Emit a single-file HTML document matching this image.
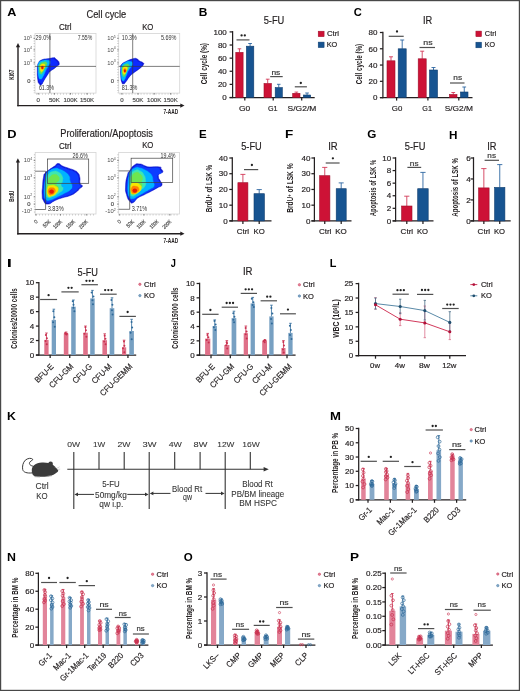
<!DOCTYPE html>
<html><head><meta charset="utf-8"><style>
html,body{margin:0;padding:0;background:#fff;}
svg{display:block;font-family:"Liberation Sans",sans-serif;filter:blur(0.3px);}

</style></head><body>
<svg width="520" height="691" viewBox="0 0 520 691">
<rect x="0" y="0" width="520" height="691" fill="#fff"/>
<text x="198.82" y="16.26" font-size="11.5" font-weight="bold" fill="#000" textLength="8.64" lengthAdjust="spacingAndGlyphs">B</text>
<text x="263.63" y="23.94" font-size="10" fill="#231f20" textLength="20.69" lengthAdjust="spacingAndGlyphs" stroke="#231f20" stroke-width="0.18">5-FU</text>
<line x1="232.60" y1="31.10" x2="232.60" y2="98.12" stroke="#231f20" stroke-width="1.25"/>
<line x1="229.60" y1="97.50" x2="232.60" y2="97.50" stroke="#231f20" stroke-width="1.25"/>
<text class="hv" x="226.80" y="100.25" font-size="8.0" fill="#231f20" text-anchor="end" stroke="#231f20" stroke-width="0.18">0</text>
<line x1="229.60" y1="84.38" x2="232.60" y2="84.38" stroke="#231f20" stroke-width="1.25"/>
<text class="hv" x="226.80" y="87.13" font-size="8.0" fill="#231f20" text-anchor="end" stroke="#231f20" stroke-width="0.18">20</text>
<line x1="229.60" y1="71.26" x2="232.60" y2="71.26" stroke="#231f20" stroke-width="1.25"/>
<text class="hv" x="226.80" y="74.01" font-size="8.0" fill="#231f20" text-anchor="end" stroke="#231f20" stroke-width="0.18">40</text>
<line x1="229.60" y1="58.14" x2="232.60" y2="58.14" stroke="#231f20" stroke-width="1.25"/>
<text class="hv" x="226.80" y="60.89" font-size="8.0" fill="#231f20" text-anchor="end" stroke="#231f20" stroke-width="0.18">60</text>
<line x1="229.60" y1="45.02" x2="232.60" y2="45.02" stroke="#231f20" stroke-width="1.25"/>
<text class="hv" x="226.80" y="47.77" font-size="8.0" fill="#231f20" text-anchor="end" stroke="#231f20" stroke-width="0.18">80</text>
<line x1="229.60" y1="31.90" x2="232.60" y2="31.90" stroke="#231f20" stroke-width="1.25"/>
<text class="hv" x="226.80" y="34.65" font-size="8.0" fill="#231f20" text-anchor="end" stroke="#231f20" stroke-width="0.18">100</text>
<line x1="229.60" y1="97.50" x2="314.70" y2="97.50" stroke="#231f20" stroke-width="1.25"/>
<line x1="244.80" y1="97.50" x2="244.80" y2="100.50" stroke="#231f20" stroke-width="1.25"/>
<line x1="273.20" y1="97.50" x2="273.20" y2="100.50" stroke="#231f20" stroke-width="1.25"/>
<line x1="301.70" y1="97.50" x2="301.70" y2="100.50" stroke="#231f20" stroke-width="1.25"/>
<line x1="239.45" y1="52.40" x2="239.45" y2="48.80" stroke="#d23a58" stroke-width="0.9"/>
<line x1="237.62" y1="48.80" x2="241.27" y2="48.80" stroke="#d23a58" stroke-width="0.9"/>
<rect x="235.80" y="52.40" width="7.30" height="45.10" fill="#cd1236" stroke="#9e0e2a" stroke-width="0.6"/>
<line x1="250.10" y1="46.20" x2="250.10" y2="43.50" stroke="#2e67a2" stroke-width="0.9"/>
<line x1="248.25" y1="43.50" x2="251.95" y2="43.50" stroke="#2e67a2" stroke-width="0.9"/>
<rect x="246.40" y="46.20" width="7.40" height="51.30" fill="#175491" stroke="#0e3d6e" stroke-width="0.6"/>
<line x1="267.70" y1="83.50" x2="267.70" y2="79.20" stroke="#d23a58" stroke-width="0.9"/>
<line x1="265.85" y1="79.20" x2="269.55" y2="79.20" stroke="#d23a58" stroke-width="0.9"/>
<rect x="264.00" y="83.50" width="7.40" height="14.00" fill="#cd1236" stroke="#9e0e2a" stroke-width="0.6"/>
<line x1="278.75" y1="87.60" x2="278.75" y2="84.30" stroke="#2e67a2" stroke-width="0.9"/>
<line x1="276.98" y1="84.30" x2="280.52" y2="84.30" stroke="#2e67a2" stroke-width="0.9"/>
<rect x="275.20" y="87.60" width="7.10" height="9.90" fill="#175491" stroke="#0e3d6e" stroke-width="0.6"/>
<line x1="296.35" y1="93.30" x2="296.35" y2="92.10" stroke="#d23a58" stroke-width="0.9"/>
<line x1="294.53" y1="92.10" x2="298.18" y2="92.10" stroke="#d23a58" stroke-width="0.9"/>
<rect x="292.70" y="93.30" width="7.30" height="4.20" fill="#cd1236" stroke="#9e0e2a" stroke-width="0.6"/>
<line x1="307.05" y1="95.00" x2="307.05" y2="93.00" stroke="#2e67a2" stroke-width="0.9"/>
<line x1="305.22" y1="93.00" x2="308.87" y2="93.00" stroke="#2e67a2" stroke-width="0.9"/>
<rect x="303.40" y="95.00" width="7.30" height="2.50" fill="#175491" stroke="#0e3d6e" stroke-width="0.6"/>
<line x1="236.50" y1="39.90" x2="249.50" y2="39.90" stroke="#505050" stroke-width="1.2"/>
<circle cx="241.60" cy="35.40" r="1.15" fill="#222"/>
<circle cx="244.80" cy="35.40" r="1.15" fill="#222"/>
<line x1="270.20" y1="76.60" x2="282.70" y2="76.60" stroke="#505050" stroke-width="1.2"/>
<text x="271.46" y="74.81" font-size="7.6" fill="#333" textLength="8.85" lengthAdjust="spacingAndGlyphs" stroke="#333" stroke-width="0.18">ns</text>
<line x1="294.80" y1="86.80" x2="306.90" y2="86.80" stroke="#505050" stroke-width="1.2"/>
<circle cx="300.80" cy="83.00" r="1.15" fill="#222"/>
<text x="238.98" y="110.95" font-size="8" fill="#231f20" textLength="11.21" lengthAdjust="spacingAndGlyphs" class="hv" stroke="#231f20" stroke-width="0.18">G0</text>
<text x="268.04" y="110.95" font-size="8" fill="#231f20" textLength="9.57" lengthAdjust="spacingAndGlyphs" class="hv" stroke="#231f20" stroke-width="0.18">G1</text>
<text x="287.62" y="110.85" font-size="8" fill="#231f20" textLength="28.70" lengthAdjust="spacingAndGlyphs" class="hv" stroke="#231f20" stroke-width="0.18">S/G2/M</text>
<rect x="318.20" y="31.20" width="5.90" height="5.50" fill="#cd1236" stroke="#9e0e2a" stroke-width="0.5"/>
<rect x="318.20" y="42.10" width="5.90" height="5.50" fill="#175491" stroke="#0e3d6e" stroke-width="0.5"/>
<text x="326.91" y="36.08" font-size="7.8" fill="#231f20" textLength="12.10" lengthAdjust="spacingAndGlyphs" class="hv" stroke="#231f20" stroke-width="0.18">Ctrl</text>
<text x="326.71" y="47.28" font-size="7.8" fill="#231f20" textLength="10.66" lengthAdjust="spacingAndGlyphs" class="hv" stroke="#231f20" stroke-width="0.18">KO</text>
<text transform="translate(206.62,84.36) rotate(-90)" font-size="8.5" font-weight="bold" fill="#231f20" textLength="41.36" lengthAdjust="spacingAndGlyphs">Cell cycle (%)</text>
<text x="353.75" y="16.46" font-size="11.5" font-weight="bold" fill="#000" textLength="8.05" lengthAdjust="spacingAndGlyphs">C</text>
<text x="422.97" y="23.74" font-size="10" fill="#231f20" textLength="9.25" lengthAdjust="spacingAndGlyphs" stroke="#231f20" stroke-width="0.18">IR</text>
<line x1="382.90" y1="31.70" x2="382.90" y2="98.22" stroke="#231f20" stroke-width="1.25"/>
<line x1="379.90" y1="97.60" x2="382.90" y2="97.60" stroke="#231f20" stroke-width="1.25"/>
<text class="hv" x="377.40" y="100.35" font-size="8.0" fill="#231f20" text-anchor="end" stroke="#231f20" stroke-width="0.18">0</text>
<line x1="379.90" y1="81.32" x2="382.90" y2="81.32" stroke="#231f20" stroke-width="1.25"/>
<text class="hv" x="377.40" y="84.08" font-size="8.0" fill="#231f20" text-anchor="end" stroke="#231f20" stroke-width="0.18">20</text>
<line x1="379.90" y1="65.05" x2="382.90" y2="65.05" stroke="#231f20" stroke-width="1.25"/>
<text class="hv" x="377.40" y="67.80" font-size="8.0" fill="#231f20" text-anchor="end" stroke="#231f20" stroke-width="0.18">40</text>
<line x1="379.90" y1="48.77" x2="382.90" y2="48.77" stroke="#231f20" stroke-width="1.25"/>
<text class="hv" x="377.40" y="51.53" font-size="8.0" fill="#231f20" text-anchor="end" stroke="#231f20" stroke-width="0.18">60</text>
<line x1="379.90" y1="32.50" x2="382.90" y2="32.50" stroke="#231f20" stroke-width="1.25"/>
<text class="hv" x="377.40" y="35.25" font-size="8.0" fill="#231f20" text-anchor="end" stroke="#231f20" stroke-width="0.18">80</text>
<line x1="379.90" y1="97.60" x2="472.50" y2="97.60" stroke="#231f20" stroke-width="1.25"/>
<line x1="396.60" y1="97.60" x2="396.60" y2="100.60" stroke="#231f20" stroke-width="1.25"/>
<line x1="427.90" y1="97.60" x2="427.90" y2="100.60" stroke="#231f20" stroke-width="1.25"/>
<line x1="458.80" y1="97.60" x2="458.80" y2="100.60" stroke="#231f20" stroke-width="1.25"/>
<line x1="391.00" y1="60.80" x2="391.00" y2="56.80" stroke="#d23a58" stroke-width="0.9"/>
<line x1="389.00" y1="56.80" x2="393.00" y2="56.80" stroke="#d23a58" stroke-width="0.9"/>
<rect x="387.00" y="60.80" width="8.00" height="36.80" fill="#cd1236" stroke="#9e0e2a" stroke-width="0.6"/>
<line x1="402.20" y1="48.80" x2="402.20" y2="40.00" stroke="#2e67a2" stroke-width="0.9"/>
<line x1="400.20" y1="40.00" x2="404.20" y2="40.00" stroke="#2e67a2" stroke-width="0.9"/>
<rect x="398.20" y="48.80" width="8.00" height="48.80" fill="#175491" stroke="#0e3d6e" stroke-width="0.6"/>
<line x1="422.20" y1="58.80" x2="422.20" y2="51.20" stroke="#d23a58" stroke-width="0.9"/>
<line x1="420.20" y1="51.20" x2="424.20" y2="51.20" stroke="#d23a58" stroke-width="0.9"/>
<rect x="418.20" y="58.80" width="8.00" height="38.80" fill="#cd1236" stroke="#9e0e2a" stroke-width="0.6"/>
<line x1="433.50" y1="70.00" x2="433.50" y2="67.50" stroke="#2e67a2" stroke-width="0.9"/>
<line x1="431.50" y1="67.50" x2="435.50" y2="67.50" stroke="#2e67a2" stroke-width="0.9"/>
<rect x="429.50" y="70.00" width="8.00" height="27.60" fill="#175491" stroke="#0e3d6e" stroke-width="0.6"/>
<line x1="453.25" y1="94.50" x2="453.25" y2="92.50" stroke="#d23a58" stroke-width="0.9"/>
<line x1="451.38" y1="92.50" x2="455.12" y2="92.50" stroke="#d23a58" stroke-width="0.9"/>
<rect x="449.50" y="94.50" width="7.50" height="3.10" fill="#cd1236" stroke="#9e0e2a" stroke-width="0.6"/>
<line x1="464.25" y1="92.00" x2="464.25" y2="87.00" stroke="#2e67a2" stroke-width="0.9"/>
<line x1="462.38" y1="87.00" x2="466.12" y2="87.00" stroke="#2e67a2" stroke-width="0.9"/>
<rect x="460.50" y="92.00" width="7.50" height="5.60" fill="#175491" stroke="#0e3d6e" stroke-width="0.6"/>
<line x1="388.70" y1="36.30" x2="403.70" y2="36.30" stroke="#505050" stroke-width="1.2"/>
<circle cx="397.00" cy="31.50" r="1.15" fill="#222"/>
<line x1="419.50" y1="47.50" x2="435.00" y2="47.50" stroke="#505050" stroke-width="1.2"/>
<text x="423.33" y="45.31" font-size="7.6" fill="#333" textLength="9.29" lengthAdjust="spacingAndGlyphs" stroke="#333" stroke-width="0.18">ns</text>
<line x1="450.00" y1="83.00" x2="464.50" y2="83.00" stroke="#505050" stroke-width="1.2"/>
<text x="453.36" y="80.31" font-size="7.6" fill="#333" textLength="8.74" lengthAdjust="spacingAndGlyphs" stroke="#333" stroke-width="0.18">ns</text>
<text x="391.81" y="111.15" font-size="8" fill="#231f20" textLength="10.46" lengthAdjust="spacingAndGlyphs" class="hv" stroke="#231f20" stroke-width="0.18">G0</text>
<text x="422.34" y="111.15" font-size="8" fill="#231f20" textLength="9.57" lengthAdjust="spacingAndGlyphs" class="hv" stroke="#231f20" stroke-width="0.18">G1</text>
<text x="444.73" y="111.15" font-size="8" fill="#231f20" textLength="28.18" lengthAdjust="spacingAndGlyphs" class="hv" stroke="#231f20" stroke-width="0.18">S/G2/M</text>
<rect x="475.90" y="31.10" width="5.60" height="5.60" fill="#cd1236" stroke="#9e0e2a" stroke-width="0.5"/>
<rect x="475.90" y="42.20" width="5.60" height="5.60" fill="#175491" stroke="#0e3d6e" stroke-width="0.5"/>
<text x="484.83" y="36.03" font-size="7.8" fill="#231f20" textLength="11.45" lengthAdjust="spacingAndGlyphs" class="hv" stroke="#231f20" stroke-width="0.18">Ctrl</text>
<text x="484.63" y="47.18" font-size="7.8" fill="#231f20" textLength="10.33" lengthAdjust="spacingAndGlyphs" class="hv" stroke="#231f20" stroke-width="0.18">KO</text>
<text transform="translate(361.52,84.25) rotate(-90)" font-size="8.5" font-weight="bold" fill="#231f20" textLength="40.45" lengthAdjust="spacingAndGlyphs">Cell cycle (%)</text>
<text x="199.05" y="138.46" font-size="11.5" font-weight="bold" fill="#000" textLength="7.67" lengthAdjust="spacingAndGlyphs">E</text>
<text x="241.23" y="149.94" font-size="10" fill="#231f20" textLength="20.48" lengthAdjust="spacingAndGlyphs" stroke="#231f20" stroke-width="0.18">5-FU</text>
<line x1="232.30" y1="157.20" x2="232.30" y2="221.53" stroke="#231f20" stroke-width="1.25"/>
<line x1="229.30" y1="220.90" x2="232.30" y2="220.90" stroke="#231f20" stroke-width="1.25"/>
<text class="hv" x="227.70" y="223.65" font-size="8.0" fill="#231f20" text-anchor="end" stroke="#231f20" stroke-width="0.18">0</text>
<line x1="229.30" y1="205.18" x2="232.30" y2="205.18" stroke="#231f20" stroke-width="1.25"/>
<text class="hv" x="227.70" y="207.93" font-size="8.0" fill="#231f20" text-anchor="end" stroke="#231f20" stroke-width="0.18">10</text>
<line x1="229.30" y1="189.45" x2="232.30" y2="189.45" stroke="#231f20" stroke-width="1.25"/>
<text class="hv" x="227.70" y="192.20" font-size="8.0" fill="#231f20" text-anchor="end" stroke="#231f20" stroke-width="0.18">20</text>
<line x1="229.30" y1="173.72" x2="232.30" y2="173.72" stroke="#231f20" stroke-width="1.25"/>
<text class="hv" x="227.70" y="176.48" font-size="8.0" fill="#231f20" text-anchor="end" stroke="#231f20" stroke-width="0.18">30</text>
<line x1="229.30" y1="158.00" x2="232.30" y2="158.00" stroke="#231f20" stroke-width="1.25"/>
<text class="hv" x="227.70" y="160.75" font-size="8.0" fill="#231f20" text-anchor="end" stroke="#231f20" stroke-width="0.18">40</text>
<line x1="229.30" y1="220.90" x2="271.50" y2="220.90" stroke="#231f20" stroke-width="1.25"/>
<line x1="242.90" y1="220.90" x2="242.90" y2="223.90" stroke="#231f20" stroke-width="1.25"/>
<line x1="259.20" y1="220.90" x2="259.20" y2="223.90" stroke="#231f20" stroke-width="1.25"/>
<line x1="242.90" y1="182.70" x2="242.90" y2="174.40" stroke="#d23a58" stroke-width="0.9"/>
<line x1="240.40" y1="174.40" x2="245.40" y2="174.40" stroke="#d23a58" stroke-width="0.9"/>
<rect x="237.90" y="182.70" width="10.00" height="38.20" fill="#cd1236" stroke="#9e0e2a" stroke-width="0.6"/>
<line x1="259.20" y1="193.70" x2="259.20" y2="189.60" stroke="#2e67a2" stroke-width="0.9"/>
<line x1="256.60" y1="189.60" x2="261.80" y2="189.60" stroke="#2e67a2" stroke-width="0.9"/>
<rect x="254.00" y="193.70" width="10.40" height="27.20" fill="#175491" stroke="#0e3d6e" stroke-width="0.6"/>
<line x1="244.00" y1="169.60" x2="258.20" y2="169.60" stroke="#505050" stroke-width="1.2"/>
<circle cx="251.90" cy="165.00" r="1.15" fill="#222"/>
<text x="236.80" y="233.75" font-size="8" fill="#231f20" textLength="12.31" lengthAdjust="spacingAndGlyphs" class="hv" stroke="#231f20" stroke-width="0.18">Ctrl</text>
<text x="253.58" y="233.75" font-size="8" fill="#231f20" textLength="11.21" lengthAdjust="spacingAndGlyphs" class="hv" stroke="#231f20" stroke-width="0.18">KO</text>
<text transform="translate(211.92,212.20) rotate(-90)" font-size="8.5" font-weight="bold" fill="#231f20" textLength="47.35" lengthAdjust="spacingAndGlyphs">BrdU<tspan font-size="5.5" dy="-2.2">+</tspan><tspan dy="2.2"> of LSK %</tspan></text>
<text x="284.92" y="138.46" font-size="11.5" font-weight="bold" fill="#000" textLength="8.26" lengthAdjust="spacingAndGlyphs">F</text>
<text x="328.15" y="149.84" font-size="10" fill="#231f20" textLength="9.48" lengthAdjust="spacingAndGlyphs" stroke="#231f20" stroke-width="0.18">IR</text>
<line x1="314.40" y1="157.20" x2="314.40" y2="221.53" stroke="#231f20" stroke-width="1.25"/>
<line x1="311.40" y1="220.90" x2="314.40" y2="220.90" stroke="#231f20" stroke-width="1.25"/>
<text class="hv" x="310.40" y="223.65" font-size="8.0" fill="#231f20" text-anchor="end" stroke="#231f20" stroke-width="0.18">0</text>
<line x1="311.40" y1="205.18" x2="314.40" y2="205.18" stroke="#231f20" stroke-width="1.25"/>
<text class="hv" x="310.40" y="207.93" font-size="8.0" fill="#231f20" text-anchor="end" stroke="#231f20" stroke-width="0.18">10</text>
<line x1="311.40" y1="189.45" x2="314.40" y2="189.45" stroke="#231f20" stroke-width="1.25"/>
<text class="hv" x="310.40" y="192.20" font-size="8.0" fill="#231f20" text-anchor="end" stroke="#231f20" stroke-width="0.18">20</text>
<line x1="311.40" y1="173.72" x2="314.40" y2="173.72" stroke="#231f20" stroke-width="1.25"/>
<text class="hv" x="310.40" y="176.48" font-size="8.0" fill="#231f20" text-anchor="end" stroke="#231f20" stroke-width="0.18">30</text>
<line x1="311.40" y1="158.00" x2="314.40" y2="158.00" stroke="#231f20" stroke-width="1.25"/>
<text class="hv" x="310.40" y="160.75" font-size="8.0" fill="#231f20" text-anchor="end" stroke="#231f20" stroke-width="0.18">40</text>
<line x1="311.40" y1="220.90" x2="351.50" y2="220.90" stroke="#231f20" stroke-width="1.25"/>
<line x1="324.75" y1="220.90" x2="324.75" y2="223.90" stroke="#231f20" stroke-width="1.25"/>
<line x1="341.20" y1="220.90" x2="341.20" y2="223.90" stroke="#231f20" stroke-width="1.25"/>
<line x1="324.75" y1="175.70" x2="324.75" y2="167.40" stroke="#d23a58" stroke-width="0.9"/>
<line x1="322.18" y1="167.40" x2="327.32" y2="167.40" stroke="#d23a58" stroke-width="0.9"/>
<rect x="319.60" y="175.70" width="10.30" height="45.20" fill="#cd1236" stroke="#9e0e2a" stroke-width="0.6"/>
<line x1="341.20" y1="188.70" x2="341.20" y2="182.90" stroke="#2e67a2" stroke-width="0.9"/>
<line x1="338.70" y1="182.90" x2="343.70" y2="182.90" stroke="#2e67a2" stroke-width="0.9"/>
<rect x="336.20" y="188.70" width="10.00" height="32.20" fill="#175491" stroke="#0e3d6e" stroke-width="0.6"/>
<line x1="325.70" y1="163.00" x2="339.60" y2="163.00" stroke="#505050" stroke-width="1.2"/>
<circle cx="332.90" cy="158.30" r="1.15" fill="#222"/>
<text x="318.90" y="233.85" font-size="8" fill="#231f20" textLength="12.53" lengthAdjust="spacingAndGlyphs" class="hv" stroke="#231f20" stroke-width="0.18">Ctrl</text>
<text x="335.16" y="233.85" font-size="8" fill="#231f20" textLength="11.54" lengthAdjust="spacingAndGlyphs" class="hv" stroke="#231f20" stroke-width="0.18">KO</text>
<text transform="translate(293.22,212.82) rotate(-90)" font-size="8.5" font-weight="bold" fill="#231f20" textLength="49.38" lengthAdjust="spacingAndGlyphs">BrdU<tspan font-size="5.5" dy="-2.2">+</tspan><tspan dy="2.2"> of LSK %</tspan></text>
<text x="367.33" y="138.46" font-size="11.5" font-weight="bold" fill="#000" textLength="9.10" lengthAdjust="spacingAndGlyphs">G</text>
<text x="404.83" y="149.94" font-size="10" fill="#231f20" textLength="20.59" lengthAdjust="spacingAndGlyphs" stroke="#231f20" stroke-width="0.18">5-FU</text>
<line x1="395.60" y1="157.20" x2="395.60" y2="221.53" stroke="#231f20" stroke-width="1.25"/>
<line x1="392.60" y1="220.90" x2="395.60" y2="220.90" stroke="#231f20" stroke-width="1.25"/>
<text class="hv" x="391.20" y="223.65" font-size="8.0" fill="#231f20" text-anchor="end" stroke="#231f20" stroke-width="0.18">0</text>
<line x1="392.60" y1="208.32" x2="395.60" y2="208.32" stroke="#231f20" stroke-width="1.25"/>
<text class="hv" x="391.20" y="211.07" font-size="8.0" fill="#231f20" text-anchor="end" stroke="#231f20" stroke-width="0.18">2</text>
<line x1="392.60" y1="195.74" x2="395.60" y2="195.74" stroke="#231f20" stroke-width="1.25"/>
<text class="hv" x="391.20" y="198.49" font-size="8.0" fill="#231f20" text-anchor="end" stroke="#231f20" stroke-width="0.18">4</text>
<line x1="392.60" y1="183.16" x2="395.60" y2="183.16" stroke="#231f20" stroke-width="1.25"/>
<text class="hv" x="391.20" y="185.91" font-size="8.0" fill="#231f20" text-anchor="end" stroke="#231f20" stroke-width="0.18">6</text>
<line x1="392.60" y1="170.58" x2="395.60" y2="170.58" stroke="#231f20" stroke-width="1.25"/>
<text class="hv" x="391.20" y="173.33" font-size="8.0" fill="#231f20" text-anchor="end" stroke="#231f20" stroke-width="0.18">8</text>
<line x1="392.60" y1="158.00" x2="395.60" y2="158.00" stroke="#231f20" stroke-width="1.25"/>
<text class="hv" x="391.20" y="160.75" font-size="8.0" fill="#231f20" text-anchor="end" stroke="#231f20" stroke-width="0.18">10</text>
<line x1="392.60" y1="220.90" x2="433.50" y2="220.90" stroke="#231f20" stroke-width="1.25"/>
<line x1="406.80" y1="220.90" x2="406.80" y2="223.90" stroke="#231f20" stroke-width="1.25"/>
<line x1="422.95" y1="220.90" x2="422.95" y2="223.90" stroke="#231f20" stroke-width="1.25"/>
<line x1="406.80" y1="206.00" x2="406.80" y2="196.20" stroke="#d23a58" stroke-width="0.9"/>
<line x1="404.20" y1="196.20" x2="409.40" y2="196.20" stroke="#d23a58" stroke-width="0.9"/>
<rect x="401.60" y="206.00" width="10.40" height="14.90" fill="#cd1236" stroke="#9e0e2a" stroke-width="0.6"/>
<line x1="422.95" y1="188.70" x2="422.95" y2="172.40" stroke="#2e67a2" stroke-width="0.9"/>
<line x1="420.32" y1="172.40" x2="425.57" y2="172.40" stroke="#2e67a2" stroke-width="0.9"/>
<rect x="417.70" y="188.70" width="10.50" height="32.20" fill="#175491" stroke="#0e3d6e" stroke-width="0.6"/>
<line x1="407.40" y1="167.40" x2="421.20" y2="167.40" stroke="#505050" stroke-width="1.2"/>
<text x="409.87" y="165.61" font-size="7.6" fill="#333" textLength="8.63" lengthAdjust="spacingAndGlyphs" stroke="#333" stroke-width="0.18">ns</text>
<text x="400.60" y="233.75" font-size="8" fill="#231f20" textLength="12.53" lengthAdjust="spacingAndGlyphs" class="hv" stroke="#231f20" stroke-width="0.18">Ctrl</text>
<text x="416.89" y="233.75" font-size="8" fill="#231f20" textLength="11.10" lengthAdjust="spacingAndGlyphs" class="hv" stroke="#231f20" stroke-width="0.18">KO</text>
<text transform="translate(375.92,216.35) rotate(-90)" font-size="8.5" font-weight="bold" fill="#231f20" textLength="56.50" lengthAdjust="spacingAndGlyphs">Apoptosis of LSK %</text>
<text x="449.14" y="138.56" font-size="11.5" font-weight="bold" fill="#000" textLength="8.45" lengthAdjust="spacingAndGlyphs">H</text>
<text x="487.27" y="150.04" font-size="10" fill="#231f20" textLength="9.25" lengthAdjust="spacingAndGlyphs" stroke="#231f20" stroke-width="0.18">IR</text>
<line x1="473.50" y1="157.20" x2="473.50" y2="221.53" stroke="#231f20" stroke-width="1.25"/>
<line x1="470.50" y1="220.90" x2="473.50" y2="220.90" stroke="#231f20" stroke-width="1.25"/>
<text class="hv" x="470.80" y="223.65" font-size="8.0" fill="#231f20" text-anchor="end" stroke="#231f20" stroke-width="0.18">0</text>
<line x1="470.50" y1="199.93" x2="473.50" y2="199.93" stroke="#231f20" stroke-width="1.25"/>
<text class="hv" x="470.80" y="202.69" font-size="8.0" fill="#231f20" text-anchor="end" stroke="#231f20" stroke-width="0.18">2</text>
<line x1="470.50" y1="178.97" x2="473.50" y2="178.97" stroke="#231f20" stroke-width="1.25"/>
<text class="hv" x="470.80" y="181.72" font-size="8.0" fill="#231f20" text-anchor="end" stroke="#231f20" stroke-width="0.18">4</text>
<line x1="470.50" y1="158.00" x2="473.50" y2="158.00" stroke="#231f20" stroke-width="1.25"/>
<text class="hv" x="470.80" y="160.75" font-size="8.0" fill="#231f20" text-anchor="end" stroke="#231f20" stroke-width="0.18">6</text>
<line x1="470.50" y1="220.90" x2="510.70" y2="220.90" stroke="#231f20" stroke-width="1.25"/>
<line x1="483.85" y1="220.90" x2="483.85" y2="223.90" stroke="#231f20" stroke-width="1.25"/>
<line x1="499.75" y1="220.90" x2="499.75" y2="223.90" stroke="#231f20" stroke-width="1.25"/>
<line x1="483.85" y1="187.90" x2="483.85" y2="168.60" stroke="#d23a58" stroke-width="0.9"/>
<line x1="481.23" y1="168.60" x2="486.48" y2="168.60" stroke="#d23a58" stroke-width="0.9"/>
<rect x="478.60" y="187.90" width="10.50" height="33.00" fill="#cd1236" stroke="#9e0e2a" stroke-width="0.6"/>
<line x1="499.75" y1="187.40" x2="499.75" y2="164.60" stroke="#2e67a2" stroke-width="0.9"/>
<line x1="497.18" y1="164.60" x2="502.32" y2="164.60" stroke="#2e67a2" stroke-width="0.9"/>
<rect x="494.60" y="187.40" width="10.30" height="33.50" fill="#175491" stroke="#0e3d6e" stroke-width="0.6"/>
<line x1="484.60" y1="160.30" x2="499.00" y2="160.30" stroke="#505050" stroke-width="1.2"/>
<text x="487.37" y="158.31" font-size="7.6" fill="#333" textLength="8.63" lengthAdjust="spacingAndGlyphs" stroke="#333" stroke-width="0.18">ns</text>
<text x="477.60" y="233.75" font-size="8" fill="#231f20" textLength="12.53" lengthAdjust="spacingAndGlyphs" class="hv" stroke="#231f20" stroke-width="0.18">Ctrl</text>
<text x="493.89" y="233.75" font-size="8" fill="#231f20" textLength="11.10" lengthAdjust="spacingAndGlyphs" class="hv" stroke="#231f20" stroke-width="0.18">KO</text>
<text transform="translate(457.52,216.65) rotate(-90)" font-size="8.5" font-weight="bold" fill="#231f20" textLength="58.51" lengthAdjust="spacingAndGlyphs">Apoptosis of LSK %</text>
<text x="6.69" y="266.96" font-size="11.5" font-weight="bold" fill="#000" textLength="5.17" lengthAdjust="spacingAndGlyphs">I</text>
<text x="77.53" y="275.64" font-size="10" fill="#231f20" textLength="20.48" lengthAdjust="spacingAndGlyphs" stroke="#231f20" stroke-width="0.18">5-FU</text>
<line x1="38.90" y1="281.90" x2="38.90" y2="355.62" stroke="#231f20" stroke-width="1.25"/>
<line x1="35.90" y1="355.00" x2="38.90" y2="355.00" stroke="#231f20" stroke-width="1.25"/>
<text class="hv" x="34.30" y="357.75" font-size="8.0" fill="#231f20" text-anchor="end" stroke="#231f20" stroke-width="0.18">0</text>
<line x1="35.90" y1="340.54" x2="38.90" y2="340.54" stroke="#231f20" stroke-width="1.25"/>
<text class="hv" x="34.30" y="343.29" font-size="8.0" fill="#231f20" text-anchor="end" stroke="#231f20" stroke-width="0.18">2</text>
<line x1="35.90" y1="326.08" x2="38.90" y2="326.08" stroke="#231f20" stroke-width="1.25"/>
<text class="hv" x="34.30" y="328.83" font-size="8.0" fill="#231f20" text-anchor="end" stroke="#231f20" stroke-width="0.18">4</text>
<line x1="35.90" y1="311.62" x2="38.90" y2="311.62" stroke="#231f20" stroke-width="1.25"/>
<text class="hv" x="34.30" y="314.37" font-size="8.0" fill="#231f20" text-anchor="end" stroke="#231f20" stroke-width="0.18">6</text>
<line x1="35.90" y1="297.16" x2="38.90" y2="297.16" stroke="#231f20" stroke-width="1.25"/>
<text class="hv" x="34.30" y="299.91" font-size="8.0" fill="#231f20" text-anchor="end" stroke="#231f20" stroke-width="0.18">8</text>
<line x1="35.90" y1="282.70" x2="38.90" y2="282.70" stroke="#231f20" stroke-width="1.25"/>
<text class="hv" x="34.30" y="285.45" font-size="8.0" fill="#231f20" text-anchor="end" stroke="#231f20" stroke-width="0.18">10</text>
<line x1="35.90" y1="355.00" x2="136.20" y2="355.00" stroke="#231f20" stroke-width="1.25"/>
<line x1="50.15" y1="355.00" x2="50.15" y2="358.00" stroke="#231f20" stroke-width="1.25"/>
<line x1="69.75" y1="355.00" x2="69.75" y2="358.00" stroke="#231f20" stroke-width="1.25"/>
<line x1="88.95" y1="355.00" x2="88.95" y2="358.00" stroke="#231f20" stroke-width="1.25"/>
<line x1="108.35" y1="355.00" x2="108.35" y2="358.00" stroke="#231f20" stroke-width="1.25"/>
<line x1="127.95" y1="355.00" x2="127.95" y2="358.00" stroke="#231f20" stroke-width="1.25"/>
<rect x="44.30" y="339.90" width="4.30" height="15.10" fill="#df7189"/>
<line x1="46.45" y1="339.90" x2="46.45" y2="333.00" stroke="#c9304f" stroke-width="0.8"/>
<line x1="45.15" y1="333.00" x2="47.75" y2="333.00" stroke="#c9304f" stroke-width="0.8"/>
<circle cx="45.89" cy="335.05" r="1.0" fill="#c9304f"/>
<circle cx="46.90" cy="338.23" r="1.0" fill="#c9304f"/>
<circle cx="45.59" cy="341.10" r="1.0" fill="#c9304f"/>
<circle cx="46.78" cy="344.18" r="1.0" fill="#c9304f"/>
<rect x="51.70" y="319.90" width="4.30" height="35.10" fill="#77a0c2"/>
<line x1="53.85" y1="319.90" x2="53.85" y2="309.20" stroke="#2f6a9a" stroke-width="0.8"/>
<line x1="52.55" y1="309.20" x2="55.15" y2="309.20" stroke="#2f6a9a" stroke-width="0.8"/>
<circle cx="53.31" cy="311.30" r="1.0" fill="#2f6a9a"/>
<circle cx="54.34" cy="317.24" r="1.0" fill="#2f6a9a"/>
<circle cx="53.13" cy="322.22" r="1.0" fill="#2f6a9a"/>
<circle cx="54.72" cy="326.69" r="1.0" fill="#2f6a9a"/>
<rect x="63.80" y="333.50" width="4.60" height="21.50" fill="#df7189"/>
<line x1="66.10" y1="333.50" x2="66.10" y2="332.00" stroke="#c9304f" stroke-width="0.8"/>
<line x1="64.80" y1="332.00" x2="67.40" y2="332.00" stroke="#c9304f" stroke-width="0.8"/>
<circle cx="65.18" cy="332.98" r="1.0" fill="#c9304f"/>
<circle cx="66.91" cy="333.85" r="1.0" fill="#c9304f"/>
<circle cx="65.36" cy="333.66" r="1.0" fill="#c9304f"/>
<circle cx="66.44" cy="334.56" r="1.0" fill="#c9304f"/>
<rect x="71.20" y="306.70" width="4.50" height="48.30" fill="#77a0c2"/>
<line x1="73.45" y1="306.70" x2="73.45" y2="300.00" stroke="#2f6a9a" stroke-width="0.8"/>
<line x1="72.15" y1="300.00" x2="74.75" y2="300.00" stroke="#2f6a9a" stroke-width="0.8"/>
<circle cx="72.76" cy="301.28" r="1.0" fill="#2f6a9a"/>
<circle cx="73.52" cy="304.83" r="1.0" fill="#2f6a9a"/>
<circle cx="73.44" cy="307.80" r="1.0" fill="#2f6a9a"/>
<circle cx="74.37" cy="311.26" r="1.0" fill="#2f6a9a"/>
<rect x="83.20" y="332.70" width="4.60" height="22.30" fill="#df7189"/>
<line x1="85.50" y1="332.70" x2="85.50" y2="326.00" stroke="#c9304f" stroke-width="0.8"/>
<line x1="84.20" y1="326.00" x2="86.80" y2="326.00" stroke="#c9304f" stroke-width="0.8"/>
<circle cx="85.43" cy="327.27" r="1.0" fill="#c9304f"/>
<circle cx="85.94" cy="330.30" r="1.0" fill="#c9304f"/>
<circle cx="84.49" cy="333.83" r="1.0" fill="#c9304f"/>
<circle cx="86.38" cy="336.72" r="1.0" fill="#c9304f"/>
<rect x="90.20" y="298.40" width="4.50" height="56.60" fill="#77a0c2"/>
<line x1="92.45" y1="298.40" x2="92.45" y2="290.40" stroke="#2f6a9a" stroke-width="0.8"/>
<line x1="91.15" y1="290.40" x2="93.75" y2="290.40" stroke="#2f6a9a" stroke-width="0.8"/>
<circle cx="91.64" cy="292.45" r="1.0" fill="#2f6a9a"/>
<circle cx="93.46" cy="296.39" r="1.0" fill="#2f6a9a"/>
<circle cx="92.42" cy="300.25" r="1.0" fill="#2f6a9a"/>
<circle cx="92.96" cy="304.23" r="1.0" fill="#2f6a9a"/>
<rect x="102.40" y="340.20" width="4.60" height="14.80" fill="#df7189"/>
<line x1="104.70" y1="340.20" x2="104.70" y2="333.80" stroke="#c9304f" stroke-width="0.8"/>
<line x1="103.40" y1="333.80" x2="106.00" y2="333.80" stroke="#c9304f" stroke-width="0.8"/>
<circle cx="104.70" cy="335.67" r="1.0" fill="#c9304f"/>
<circle cx="105.43" cy="338.75" r="1.0" fill="#c9304f"/>
<circle cx="104.18" cy="341.38" r="1.0" fill="#c9304f"/>
<circle cx="105.54" cy="344.15" r="1.0" fill="#c9304f"/>
<rect x="109.70" y="308.20" width="4.60" height="46.80" fill="#77a0c2"/>
<line x1="112.00" y1="308.20" x2="112.00" y2="297.80" stroke="#2f6a9a" stroke-width="0.8"/>
<line x1="110.70" y1="297.80" x2="113.30" y2="297.80" stroke="#2f6a9a" stroke-width="0.8"/>
<circle cx="111.41" cy="300.06" r="1.0" fill="#2f6a9a"/>
<circle cx="112.40" cy="304.79" r="1.0" fill="#2f6a9a"/>
<circle cx="111.94" cy="310.33" r="1.0" fill="#2f6a9a"/>
<circle cx="112.56" cy="314.58" r="1.0" fill="#2f6a9a"/>
<rect x="122.00" y="347.30" width="4.20" height="7.70" fill="#df7189"/>
<line x1="124.10" y1="347.30" x2="124.10" y2="340.20" stroke="#c9304f" stroke-width="0.8"/>
<line x1="122.80" y1="340.20" x2="125.40" y2="340.20" stroke="#c9304f" stroke-width="0.8"/>
<circle cx="124.01" cy="341.56" r="1.0" fill="#c9304f"/>
<circle cx="124.37" cy="345.81" r="1.0" fill="#c9304f"/>
<circle cx="123.00" cy="348.18" r="1.0" fill="#c9304f"/>
<circle cx="124.33" cy="352.25" r="1.0" fill="#c9304f"/>
<rect x="129.30" y="331.00" width="4.60" height="24.00" fill="#77a0c2"/>
<line x1="131.60" y1="331.00" x2="131.60" y2="319.30" stroke="#2f6a9a" stroke-width="0.8"/>
<line x1="130.30" y1="319.30" x2="132.90" y2="319.30" stroke="#2f6a9a" stroke-width="0.8"/>
<circle cx="131.59" cy="322.03" r="1.0" fill="#2f6a9a"/>
<circle cx="132.15" cy="327.48" r="1.0" fill="#2f6a9a"/>
<circle cx="130.61" cy="332.76" r="1.0" fill="#2f6a9a"/>
<circle cx="131.69" cy="339.19" r="1.0" fill="#2f6a9a"/>
<line x1="40.10" y1="299.50" x2="57.10" y2="299.50" stroke="#505050" stroke-width="1.2"/>
<circle cx="48.60" cy="295.20" r="1.15" fill="#222"/>
<line x1="61.40" y1="291.90" x2="78.70" y2="291.90" stroke="#505050" stroke-width="1.2"/>
<circle cx="68.45" cy="287.80" r="1.15" fill="#222"/>
<circle cx="71.65" cy="287.80" r="1.15" fill="#222"/>
<line x1="81.40" y1="284.70" x2="97.90" y2="284.70" stroke="#505050" stroke-width="1.2"/>
<circle cx="86.45" cy="280.80" r="1.15" fill="#222"/>
<circle cx="89.65" cy="280.80" r="1.15" fill="#222"/>
<circle cx="92.85" cy="280.80" r="1.15" fill="#222"/>
<line x1="100.00" y1="294.20" x2="116.70" y2="294.20" stroke="#505050" stroke-width="1.2"/>
<circle cx="105.15" cy="290.10" r="1.15" fill="#222"/>
<circle cx="108.35" cy="290.10" r="1.15" fill="#222"/>
<circle cx="111.55" cy="290.10" r="1.15" fill="#222"/>
<line x1="119.40" y1="316.40" x2="135.90" y2="316.40" stroke="#505050" stroke-width="1.2"/>
<circle cx="127.65" cy="312.00" r="1.15" fill="#222"/>
<circle cx="139.90" cy="284.30" r="1.2" fill="#e2849a" stroke="#c9304f" stroke-width="0.45"/>
<circle cx="139.90" cy="295.60" r="1.2" fill="#86a9c8" stroke="#2f6a9a" stroke-width="0.45"/>
<text x="144.10" y="286.88" font-size="7.5" fill="#231f20" stroke="#231f20" stroke-width="0.18">Ctrl</text>
<text x="144.10" y="298.18" font-size="7.5" fill="#231f20" stroke="#231f20" stroke-width="0.18">KO</text>
<text class="hv" transform="translate(54.16,367.18) rotate(-45)" font-size="8.3" fill="#231f20" text-anchor="end" textLength="22.80" lengthAdjust="spacingAndGlyphs" stroke="#231f20" stroke-width="0.18">BFU-E</text>
<text class="hv" transform="translate(73.99,366.95) rotate(-45)" font-size="8.3" fill="#231f20" text-anchor="end" textLength="30.39" lengthAdjust="spacingAndGlyphs" stroke="#231f20" stroke-width="0.18">CFU-GM</text>
<text class="hv" transform="translate(92.72,367.02) rotate(-45)" font-size="8.3" fill="#231f20" text-anchor="end" textLength="24.06" lengthAdjust="spacingAndGlyphs" stroke="#231f20" stroke-width="0.18">CFU-G</text>
<text class="hv" transform="translate(112.28,366.96) rotate(-45)" font-size="8.3" fill="#231f20" text-anchor="end" textLength="24.48" lengthAdjust="spacingAndGlyphs" stroke="#231f20" stroke-width="0.18">CFU-M</text>
<text class="hv" transform="translate(132.89,366.95) rotate(-45)" font-size="8.3" fill="#231f20" text-anchor="end" textLength="41.79" lengthAdjust="spacingAndGlyphs" stroke="#231f20" stroke-width="0.18">CFU-GEMM</text>
<text transform="translate(17.42,348.65) rotate(-90)" font-size="8.5" font-weight="bold" fill="#231f20" textLength="60.21" lengthAdjust="spacingAndGlyphs">Colonies/20000 cells</text>
<text x="170.66" y="266.96" font-size="11.5" font-weight="bold" fill="#000" textLength="5.15" lengthAdjust="spacingAndGlyphs">J</text>
<text x="242.94" y="275.24" font-size="10" fill="#231f20" textLength="9.60" lengthAdjust="spacingAndGlyphs" stroke="#231f20" stroke-width="0.18">IR</text>
<line x1="199.60" y1="282.70" x2="199.60" y2="355.82" stroke="#231f20" stroke-width="1.25"/>
<line x1="196.60" y1="355.20" x2="199.60" y2="355.20" stroke="#231f20" stroke-width="1.25"/>
<text class="hv" x="194.80" y="357.95" font-size="8.0" fill="#231f20" text-anchor="end" stroke="#231f20" stroke-width="0.18">0</text>
<line x1="196.60" y1="340.86" x2="199.60" y2="340.86" stroke="#231f20" stroke-width="1.25"/>
<text class="hv" x="194.80" y="343.61" font-size="8.0" fill="#231f20" text-anchor="end" stroke="#231f20" stroke-width="0.18">2</text>
<line x1="196.60" y1="326.52" x2="199.60" y2="326.52" stroke="#231f20" stroke-width="1.25"/>
<text class="hv" x="194.80" y="329.27" font-size="8.0" fill="#231f20" text-anchor="end" stroke="#231f20" stroke-width="0.18">4</text>
<line x1="196.60" y1="312.18" x2="199.60" y2="312.18" stroke="#231f20" stroke-width="1.25"/>
<text class="hv" x="194.80" y="314.93" font-size="8.0" fill="#231f20" text-anchor="end" stroke="#231f20" stroke-width="0.18">6</text>
<line x1="196.60" y1="297.84" x2="199.60" y2="297.84" stroke="#231f20" stroke-width="1.25"/>
<text class="hv" x="194.80" y="300.59" font-size="8.0" fill="#231f20" text-anchor="end" stroke="#231f20" stroke-width="0.18">8</text>
<line x1="196.60" y1="283.50" x2="199.60" y2="283.50" stroke="#231f20" stroke-width="1.25"/>
<text class="hv" x="194.80" y="286.25" font-size="8.0" fill="#231f20" text-anchor="end" stroke="#231f20" stroke-width="0.18">10</text>
<line x1="196.60" y1="355.20" x2="295.60" y2="355.20" stroke="#231f20" stroke-width="1.25"/>
<line x1="211.00" y1="355.20" x2="211.00" y2="358.20" stroke="#231f20" stroke-width="1.25"/>
<line x1="230.30" y1="355.20" x2="230.30" y2="358.20" stroke="#231f20" stroke-width="1.25"/>
<line x1="249.30" y1="355.20" x2="249.30" y2="358.20" stroke="#231f20" stroke-width="1.25"/>
<line x1="267.90" y1="355.20" x2="267.90" y2="358.20" stroke="#231f20" stroke-width="1.25"/>
<line x1="287.00" y1="355.20" x2="287.00" y2="358.20" stroke="#231f20" stroke-width="1.25"/>
<rect x="205.10" y="338.60" width="5.20" height="16.60" fill="#df7189"/>
<line x1="207.70" y1="338.60" x2="207.70" y2="333.40" stroke="#c9304f" stroke-width="0.8"/>
<line x1="206.40" y1="333.40" x2="209.00" y2="333.40" stroke="#c9304f" stroke-width="0.8"/>
<circle cx="207.41" cy="335.12" r="1.0" fill="#c9304f"/>
<circle cx="208.40" cy="337.33" r="1.0" fill="#c9304f"/>
<circle cx="206.70" cy="339.89" r="1.0" fill="#c9304f"/>
<circle cx="208.66" cy="342.53" r="1.0" fill="#c9304f"/>
<rect x="212.60" y="326.00" width="4.30" height="29.20" fill="#77a0c2"/>
<line x1="214.75" y1="326.00" x2="214.75" y2="319.90" stroke="#2f6a9a" stroke-width="0.8"/>
<line x1="213.45" y1="319.90" x2="216.05" y2="319.90" stroke="#2f6a9a" stroke-width="0.8"/>
<circle cx="214.51" cy="320.95" r="1.0" fill="#2f6a9a"/>
<circle cx="215.62" cy="324.47" r="1.0" fill="#2f6a9a"/>
<circle cx="213.86" cy="327.31" r="1.0" fill="#2f6a9a"/>
<circle cx="215.31" cy="330.02" r="1.0" fill="#2f6a9a"/>
<rect x="224.30" y="345.00" width="5.10" height="10.20" fill="#df7189"/>
<line x1="226.85" y1="345.00" x2="226.85" y2="340.60" stroke="#c9304f" stroke-width="0.8"/>
<line x1="225.55" y1="340.60" x2="228.15" y2="340.60" stroke="#c9304f" stroke-width="0.8"/>
<circle cx="226.65" cy="342.19" r="1.0" fill="#c9304f"/>
<circle cx="226.98" cy="343.30" r="1.0" fill="#c9304f"/>
<circle cx="226.13" cy="345.25" r="1.0" fill="#c9304f"/>
<circle cx="227.23" cy="348.51" r="1.0" fill="#c9304f"/>
<rect x="231.60" y="318.10" width="4.70" height="37.10" fill="#77a0c2"/>
<line x1="233.95" y1="318.10" x2="233.95" y2="311.20" stroke="#2f6a9a" stroke-width="0.8"/>
<line x1="232.65" y1="311.20" x2="235.25" y2="311.20" stroke="#2f6a9a" stroke-width="0.8"/>
<circle cx="233.30" cy="313.35" r="1.0" fill="#2f6a9a"/>
<circle cx="234.42" cy="316.65" r="1.0" fill="#2f6a9a"/>
<circle cx="233.37" cy="319.86" r="1.0" fill="#2f6a9a"/>
<circle cx="234.09" cy="322.17" r="1.0" fill="#2f6a9a"/>
<rect x="243.70" y="333.20" width="4.30" height="22.00" fill="#df7189"/>
<line x1="245.85" y1="333.20" x2="245.85" y2="326.00" stroke="#c9304f" stroke-width="0.8"/>
<line x1="244.55" y1="326.00" x2="247.15" y2="326.00" stroke="#c9304f" stroke-width="0.8"/>
<circle cx="245.64" cy="327.96" r="1.0" fill="#c9304f"/>
<circle cx="246.59" cy="331.54" r="1.0" fill="#c9304f"/>
<circle cx="245.75" cy="334.17" r="1.0" fill="#c9304f"/>
<circle cx="246.68" cy="338.57" r="1.0" fill="#c9304f"/>
<rect x="250.60" y="303.40" width="4.30" height="51.80" fill="#77a0c2"/>
<line x1="252.75" y1="303.40" x2="252.75" y2="297.40" stroke="#2f6a9a" stroke-width="0.8"/>
<line x1="251.45" y1="297.40" x2="254.05" y2="297.40" stroke="#2f6a9a" stroke-width="0.8"/>
<circle cx="251.79" cy="298.68" r="1.0" fill="#2f6a9a"/>
<circle cx="253.45" cy="302.19" r="1.0" fill="#2f6a9a"/>
<circle cx="252.70" cy="304.94" r="1.0" fill="#2f6a9a"/>
<circle cx="253.80" cy="307.03" r="1.0" fill="#2f6a9a"/>
<rect x="262.20" y="340.60" width="4.80" height="14.60" fill="#df7189"/>
<circle cx="264.54" cy="340.10" r="1.0" fill="#c9304f"/>
<circle cx="265.45" cy="340.24" r="1.0" fill="#c9304f"/>
<circle cx="263.76" cy="341.05" r="1.0" fill="#c9304f"/>
<circle cx="264.65" cy="342.32" r="1.0" fill="#c9304f"/>
<rect x="269.30" y="316.40" width="4.30" height="38.80" fill="#77a0c2"/>
<line x1="271.45" y1="316.40" x2="271.45" y2="305.20" stroke="#2f6a9a" stroke-width="0.8"/>
<line x1="270.15" y1="305.20" x2="272.75" y2="305.20" stroke="#2f6a9a" stroke-width="0.8"/>
<circle cx="271.38" cy="308.04" r="1.0" fill="#2f6a9a"/>
<circle cx="272.36" cy="313.42" r="1.0" fill="#2f6a9a"/>
<circle cx="271.08" cy="319.05" r="1.0" fill="#2f6a9a"/>
<circle cx="271.86" cy="323.46" r="1.0" fill="#2f6a9a"/>
<rect x="281.40" y="348.00" width="4.10" height="7.20" fill="#df7189"/>
<line x1="283.45" y1="348.00" x2="283.45" y2="340.60" stroke="#c9304f" stroke-width="0.8"/>
<line x1="282.15" y1="340.60" x2="284.75" y2="340.60" stroke="#c9304f" stroke-width="0.8"/>
<circle cx="283.30" cy="341.89" r="1.0" fill="#c9304f"/>
<circle cx="283.96" cy="345.43" r="1.0" fill="#c9304f"/>
<circle cx="282.99" cy="349.50" r="1.0" fill="#c9304f"/>
<circle cx="283.68" cy="352.52" r="1.0" fill="#c9304f"/>
<rect x="288.30" y="332.90" width="4.30" height="22.30" fill="#77a0c2"/>
<line x1="290.45" y1="332.90" x2="290.45" y2="323.30" stroke="#2f6a9a" stroke-width="0.8"/>
<line x1="289.15" y1="323.30" x2="291.75" y2="323.30" stroke="#2f6a9a" stroke-width="0.8"/>
<circle cx="289.89" cy="325.64" r="1.0" fill="#2f6a9a"/>
<circle cx="290.83" cy="329.95" r="1.0" fill="#2f6a9a"/>
<circle cx="289.99" cy="335.11" r="1.0" fill="#2f6a9a"/>
<circle cx="291.52" cy="339.01" r="1.0" fill="#2f6a9a"/>
<line x1="202.20" y1="314.30" x2="218.60" y2="314.30" stroke="#505050" stroke-width="1.2"/>
<circle cx="210.40" cy="310.00" r="1.15" fill="#222"/>
<line x1="221.70" y1="307.20" x2="238.00" y2="307.20" stroke="#505050" stroke-width="1.2"/>
<circle cx="226.65" cy="303.00" r="1.15" fill="#222"/>
<circle cx="229.85" cy="303.00" r="1.15" fill="#222"/>
<circle cx="233.05" cy="303.00" r="1.15" fill="#222"/>
<line x1="240.70" y1="293.40" x2="257.00" y2="293.40" stroke="#505050" stroke-width="1.2"/>
<circle cx="245.65" cy="289.30" r="1.15" fill="#222"/>
<circle cx="248.85" cy="289.30" r="1.15" fill="#222"/>
<circle cx="252.05" cy="289.30" r="1.15" fill="#222"/>
<line x1="260.60" y1="300.80" x2="277.00" y2="300.80" stroke="#505050" stroke-width="1.2"/>
<circle cx="267.20" cy="296.70" r="1.15" fill="#222"/>
<circle cx="270.40" cy="296.70" r="1.15" fill="#222"/>
<line x1="280.00" y1="313.80" x2="295.90" y2="313.80" stroke="#505050" stroke-width="1.2"/>
<circle cx="287.95" cy="309.60" r="1.15" fill="#222"/>
<circle cx="299.40" cy="284.80" r="1.2" fill="#e2849a" stroke="#c9304f" stroke-width="0.45"/>
<circle cx="299.40" cy="296.00" r="1.2" fill="#86a9c8" stroke="#2f6a9a" stroke-width="0.45"/>
<text x="303.00" y="287.38" font-size="7.5" fill="#231f20" stroke="#231f20" stroke-width="0.18">Ctrl</text>
<text x="303.00" y="298.58" font-size="7.5" fill="#231f20" stroke="#231f20" stroke-width="0.18">KO</text>
<text class="hv" transform="translate(215.26,367.18) rotate(-45)" font-size="8.3" fill="#231f20" text-anchor="end" textLength="22.80" lengthAdjust="spacingAndGlyphs" stroke="#231f20" stroke-width="0.18">BFU-E</text>
<text class="hv" transform="translate(234.69,366.95) rotate(-45)" font-size="8.3" fill="#231f20" text-anchor="end" textLength="30.39" lengthAdjust="spacingAndGlyphs" stroke="#231f20" stroke-width="0.18">CFU-GM</text>
<text class="hv" transform="translate(253.92,367.02) rotate(-45)" font-size="8.3" fill="#231f20" text-anchor="end" textLength="24.06" lengthAdjust="spacingAndGlyphs" stroke="#231f20" stroke-width="0.18">CFU-G</text>
<text class="hv" transform="translate(272.68,366.96) rotate(-45)" font-size="8.3" fill="#231f20" text-anchor="end" textLength="24.48" lengthAdjust="spacingAndGlyphs" stroke="#231f20" stroke-width="0.18">CFU-M</text>
<text class="hv" transform="translate(292.19,366.95) rotate(-45)" font-size="8.3" fill="#231f20" text-anchor="end" textLength="41.79" lengthAdjust="spacingAndGlyphs" stroke="#231f20" stroke-width="0.18">CFU-GEMM</text>
<text transform="translate(178.22,348.65) rotate(-90)" font-size="8.5" font-weight="bold" fill="#231f20" textLength="61.02" lengthAdjust="spacingAndGlyphs">Colonies/15000 cells</text>
<text x="329.69" y="266.96" font-size="11.5" font-weight="bold" fill="#000" textLength="6.64" lengthAdjust="spacingAndGlyphs">L</text>
<line x1="358.60" y1="282.80" x2="358.60" y2="356.32" stroke="#231f20" stroke-width="1.25"/>
<line x1="355.60" y1="355.70" x2="358.60" y2="355.70" stroke="#231f20" stroke-width="1.25"/>
<text class="hv" x="353.30" y="358.45" font-size="8.0" fill="#231f20" text-anchor="end" stroke="#231f20" stroke-width="0.18">0</text>
<line x1="355.60" y1="341.28" x2="358.60" y2="341.28" stroke="#231f20" stroke-width="1.25"/>
<text class="hv" x="353.30" y="344.03" font-size="8.0" fill="#231f20" text-anchor="end" stroke="#231f20" stroke-width="0.18">5</text>
<line x1="355.60" y1="326.86" x2="358.60" y2="326.86" stroke="#231f20" stroke-width="1.25"/>
<text class="hv" x="353.30" y="329.61" font-size="8.0" fill="#231f20" text-anchor="end" stroke="#231f20" stroke-width="0.18">10</text>
<line x1="355.60" y1="312.44" x2="358.60" y2="312.44" stroke="#231f20" stroke-width="1.25"/>
<text class="hv" x="353.30" y="315.19" font-size="8.0" fill="#231f20" text-anchor="end" stroke="#231f20" stroke-width="0.18">15</text>
<line x1="355.60" y1="298.02" x2="358.60" y2="298.02" stroke="#231f20" stroke-width="1.25"/>
<text class="hv" x="353.30" y="300.77" font-size="8.0" fill="#231f20" text-anchor="end" stroke="#231f20" stroke-width="0.18">20</text>
<line x1="355.60" y1="283.60" x2="358.60" y2="283.60" stroke="#231f20" stroke-width="1.25"/>
<text class="hv" x="353.30" y="286.35" font-size="8.0" fill="#231f20" text-anchor="end" stroke="#231f20" stroke-width="0.18">25</text>
<line x1="355.60" y1="355.70" x2="466.00" y2="355.70" stroke="#231f20" stroke-width="1.25"/>
<line x1="375.50" y1="355.70" x2="375.50" y2="358.70" stroke="#231f20" stroke-width="1.25"/>
<line x1="400.20" y1="355.70" x2="400.20" y2="358.70" stroke="#231f20" stroke-width="1.25"/>
<line x1="424.80" y1="355.70" x2="424.80" y2="358.70" stroke="#231f20" stroke-width="1.25"/>
<line x1="449.80" y1="355.70" x2="449.80" y2="358.70" stroke="#231f20" stroke-width="1.25"/>
<line x1="375.50" y1="297.70" x2="375.50" y2="309.20" stroke="#d9708a" stroke-width="0.8"/>
<line x1="374.30" y1="297.70" x2="376.70" y2="297.70" stroke="#d9708a" stroke-width="0.8"/>
<line x1="374.30" y1="309.20" x2="376.70" y2="309.20" stroke="#d9708a" stroke-width="0.8"/>
<line x1="375.50" y1="298.00" x2="375.50" y2="309.00" stroke="#4a6d86" stroke-width="0.8"/>
<line x1="374.30" y1="298.00" x2="376.70" y2="298.00" stroke="#4a6d86" stroke-width="0.8"/>
<line x1="374.30" y1="309.00" x2="376.70" y2="309.00" stroke="#4a6d86" stroke-width="0.8"/>
<line x1="400.20" y1="312.70" x2="400.20" y2="325.60" stroke="#d9708a" stroke-width="0.8"/>
<line x1="399.00" y1="312.70" x2="401.40" y2="312.70" stroke="#d9708a" stroke-width="0.8"/>
<line x1="399.00" y1="325.60" x2="401.40" y2="325.60" stroke="#d9708a" stroke-width="0.8"/>
<line x1="400.20" y1="299.20" x2="400.20" y2="313.70" stroke="#4a6d86" stroke-width="0.8"/>
<line x1="399.00" y1="299.20" x2="401.40" y2="299.20" stroke="#4a6d86" stroke-width="0.8"/>
<line x1="399.00" y1="313.70" x2="401.40" y2="313.70" stroke="#4a6d86" stroke-width="0.8"/>
<line x1="424.80" y1="306.00" x2="424.80" y2="337.70" stroke="#d9708a" stroke-width="0.8"/>
<line x1="423.60" y1="306.00" x2="426.00" y2="306.00" stroke="#d9708a" stroke-width="0.8"/>
<line x1="423.60" y1="337.70" x2="426.00" y2="337.70" stroke="#d9708a" stroke-width="0.8"/>
<line x1="424.80" y1="300.40" x2="424.80" y2="320.00" stroke="#4a6d86" stroke-width="0.8"/>
<line x1="423.60" y1="300.40" x2="426.00" y2="300.40" stroke="#4a6d86" stroke-width="0.8"/>
<line x1="423.60" y1="320.00" x2="426.00" y2="320.00" stroke="#4a6d86" stroke-width="0.8"/>
<line x1="449.80" y1="323.00" x2="449.80" y2="339.60" stroke="#d9708a" stroke-width="0.8"/>
<line x1="448.60" y1="323.00" x2="451.00" y2="323.00" stroke="#d9708a" stroke-width="0.8"/>
<line x1="448.60" y1="339.60" x2="451.00" y2="339.60" stroke="#d9708a" stroke-width="0.8"/>
<line x1="449.80" y1="311.70" x2="449.80" y2="331.00" stroke="#4a6d86" stroke-width="0.8"/>
<line x1="448.60" y1="311.70" x2="451.00" y2="311.70" stroke="#4a6d86" stroke-width="0.8"/>
<line x1="448.60" y1="331.00" x2="451.00" y2="331.00" stroke="#4a6d86" stroke-width="0.8"/>
<polyline points="375.5,303.6 400.2,306.5 424.8,310.6 449.8,322.4" fill="none" stroke="#5a8aa8" stroke-width="1"/>
<polyline points="375.5,304.8 400.2,319.2 424.8,322.9 449.8,331.8" fill="none" stroke="#d23a5c" stroke-width="1"/>
<circle cx="375.5" cy="303.6" r="1.55" fill="#1f4e6e"/>
<circle cx="400.2" cy="306.5" r="1.55" fill="#1f4e6e"/>
<circle cx="424.8" cy="310.6" r="1.55" fill="#1f4e6e"/>
<circle cx="449.8" cy="322.4" r="1.55" fill="#1f4e6e"/>
<circle cx="375.5" cy="304.8" r="1.55" fill="#b0123a"/>
<circle cx="400.2" cy="319.2" r="1.55" fill="#b0123a"/>
<circle cx="424.8" cy="322.9" r="1.55" fill="#b0123a"/>
<circle cx="449.8" cy="331.8" r="1.55" fill="#b0123a"/>
<line x1="392.50" y1="294.20" x2="408.80" y2="294.20" stroke="#505050" stroke-width="1.2"/>
<circle cx="397.45" cy="290.20" r="1.15" fill="#222"/>
<circle cx="400.65" cy="290.20" r="1.15" fill="#222"/>
<circle cx="403.85" cy="290.20" r="1.15" fill="#222"/>
<line x1="417.00" y1="294.40" x2="433.30" y2="294.40" stroke="#505050" stroke-width="1.2"/>
<circle cx="421.95" cy="290.00" r="1.15" fill="#222"/>
<circle cx="425.15" cy="290.00" r="1.15" fill="#222"/>
<circle cx="428.35" cy="290.00" r="1.15" fill="#222"/>
<line x1="442.20" y1="308.50" x2="458.70" y2="308.50" stroke="#505050" stroke-width="1.2"/>
<circle cx="447.25" cy="304.60" r="1.15" fill="#222"/>
<circle cx="450.45" cy="304.60" r="1.15" fill="#222"/>
<circle cx="453.65" cy="304.60" r="1.15" fill="#222"/>
<text x="370.09" y="368.48" font-size="7.5" fill="#231f20" textLength="9.90" lengthAdjust="spacingAndGlyphs" stroke="#231f20" stroke-width="0.18">0w</text>
<text x="394.84" y="368.48" font-size="7.5" fill="#231f20" textLength="10.15" lengthAdjust="spacingAndGlyphs" stroke="#231f20" stroke-width="0.18">4w</text>
<text x="419.12" y="368.48" font-size="7.5" fill="#231f20" textLength="10.87" lengthAdjust="spacingAndGlyphs" stroke="#231f20" stroke-width="0.18">8w</text>
<text x="442.22" y="368.48" font-size="7.5" fill="#231f20" textLength="14.28" lengthAdjust="spacingAndGlyphs" stroke="#231f20" stroke-width="0.18">12w</text>
<line x1="470.30" y1="284.60" x2="477.30" y2="284.60" stroke="#d23a5c" stroke-width="1"/>
<circle cx="473.8" cy="284.6" r="1.4" fill="#b0123a"/>
<line x1="470.30" y1="295.80" x2="477.30" y2="295.80" stroke="#5a8aa8" stroke-width="1"/>
<circle cx="473.8" cy="295.8" r="1.4" fill="#1f4e6e"/>
<text x="480.90" y="287.18" font-size="7.5" fill="#231f20" stroke="#231f20" stroke-width="0.18">Ctrl</text>
<text x="480.90" y="298.38" font-size="7.5" fill="#231f20" stroke="#231f20" stroke-width="0.18">KO</text>
<text transform="translate(339.12,337.80) rotate(-90)" font-size="8.5" font-weight="bold" fill="#231f20" textLength="38.49" lengthAdjust="spacingAndGlyphs">WBC (10<tspan font-size="5.5" dy="-2.2">9</tspan><tspan dy="2.2">/L)</tspan></text>
<text x="7.10" y="420.46" font-size="11.5" font-weight="bold" fill="#000" textLength="8.85" lengthAdjust="spacingAndGlyphs">K</text>
<line x1="67.30" y1="469.20" x2="265.50" y2="469.20" stroke="#333333" stroke-width="1.1"/>
<path d="M268.8,469.2 L263.6,466.9 L263.6,471.5 Z" fill="#333333"/>
<text x="67.26" y="446.75" font-size="8" fill="#333333" textLength="12.78" lengthAdjust="spacingAndGlyphs" stroke="#333333" stroke-width="0.08">0W</text>
<line x1="73.80" y1="452.00" x2="73.80" y2="509.00" stroke="#333333" stroke-width="1.1"/>
<text x="93.09" y="446.75" font-size="8" fill="#333333" textLength="12.25" lengthAdjust="spacingAndGlyphs" stroke="#333333" stroke-width="0.08">1W</text>
<line x1="99.00" y1="452.00" x2="99.00" y2="469.20" stroke="#333333" stroke-width="1.1"/>
<text x="117.47" y="446.75" font-size="8" fill="#333333" textLength="12.98" lengthAdjust="spacingAndGlyphs" stroke="#333333" stroke-width="0.08">2W</text>
<line x1="124.20" y1="452.00" x2="124.20" y2="469.20" stroke="#333333" stroke-width="1.1"/>
<text x="142.63" y="446.75" font-size="8" fill="#333333" textLength="13.92" lengthAdjust="spacingAndGlyphs" stroke="#333333" stroke-width="0.08">3W</text>
<line x1="149.20" y1="452.00" x2="149.20" y2="509.00" stroke="#333333" stroke-width="1.1"/>
<text x="168.72" y="446.75" font-size="8" fill="#333333" textLength="13.22" lengthAdjust="spacingAndGlyphs" stroke="#333333" stroke-width="0.08">4W</text>
<line x1="174.70" y1="452.00" x2="174.70" y2="469.20" stroke="#333333" stroke-width="1.1"/>
<text x="193.59" y="446.75" font-size="8" fill="#333333" textLength="13.76" lengthAdjust="spacingAndGlyphs" stroke="#333333" stroke-width="0.08">8W</text>
<line x1="200.10" y1="452.00" x2="200.10" y2="469.20" stroke="#333333" stroke-width="1.1"/>
<text x="217.38" y="446.75" font-size="8" fill="#333333" textLength="17.07" lengthAdjust="spacingAndGlyphs" stroke="#333333" stroke-width="0.08">12W</text>
<line x1="225.20" y1="452.00" x2="225.20" y2="509.00" stroke="#333333" stroke-width="1.1"/>
<text x="242.36" y="446.75" font-size="8" fill="#333333" textLength="17.49" lengthAdjust="spacingAndGlyphs" stroke="#333333" stroke-width="0.08">16W</text>
<line x1="250.30" y1="452.00" x2="250.30" y2="469.20" stroke="#333333" stroke-width="1.1"/>
<line x1="76.80" y1="494.40" x2="94.00" y2="494.40" stroke="#333333" stroke-width="1.0"/>
<line x1="127.30" y1="494.40" x2="146.20" y2="494.40" stroke="#333333" stroke-width="1.0"/>
<path d="M74.39999999999999,494.4 L78.0,492.5 L78.0,496.29999999999995 Z" fill="#333333"/>
<path d="M148.6,494.4 L145.0,492.5 L145.0,496.29999999999995 Z" fill="#333333"/>
<line x1="152.20" y1="493.40" x2="170.50" y2="493.40" stroke="#333333" stroke-width="1.0"/>
<line x1="205.50" y1="493.40" x2="222.20" y2="493.40" stroke="#333333" stroke-width="1.0"/>
<path d="M149.79999999999998,493.4 L153.39999999999998,491.5 L153.39999999999998,495.29999999999995 Z" fill="#333333"/>
<path d="M224.6,493.4 L221.0,491.5 L221.0,495.29999999999995 Z" fill="#333333"/>
<text x="102.19" y="487.42" font-size="8.2" fill="#333333" textLength="17.42" lengthAdjust="spacingAndGlyphs" stroke="#333333" stroke-width="0.08">5-FU</text>
<text x="95.07" y="497.62" font-size="8.2" fill="#333333" textLength="31.67" lengthAdjust="spacingAndGlyphs" stroke="#333333" stroke-width="0.08">50mg/kg</text>
<text x="99.27" y="507.22" font-size="8.2" fill="#333333" textLength="24.02" lengthAdjust="spacingAndGlyphs" stroke="#333333" stroke-width="0.08">qw i.p.</text>
<text x="172.07" y="492.02" font-size="8.2" fill="#333333" textLength="30.07" lengthAdjust="spacingAndGlyphs" stroke="#333333" stroke-width="0.08">Blood Rt</text>
<text x="183.12" y="500.05" font-size="8.2" fill="#333333" textLength="8.87" lengthAdjust="spacingAndGlyphs" stroke="#333333" stroke-width="0.08">qw</text>
<text x="242.16" y="486.82" font-size="8.2" fill="#333333" textLength="30.48" lengthAdjust="spacingAndGlyphs" stroke="#333333" stroke-width="0.08">Blood Rt</text>
<text x="231.36" y="496.62" font-size="8.2" fill="#333333" textLength="52.80" lengthAdjust="spacingAndGlyphs" stroke="#333333" stroke-width="0.08">PB/BM lineage</text>
<text x="239.34" y="505.62" font-size="8.2" fill="#333333" textLength="37.56" lengthAdjust="spacingAndGlyphs" stroke="#333333" stroke-width="0.08">BM HSPC</text>
<text x="35.58" y="489.42" font-size="8.2" fill="#333333" textLength="13.18" lengthAdjust="spacingAndGlyphs" stroke="#333333" stroke-width="0.08">Ctrl</text>
<text x="36.27" y="498.62" font-size="8.2" fill="#333333" textLength="11.32" lengthAdjust="spacingAndGlyphs" stroke="#333333" stroke-width="0.08">KO</text>
<path d="M33,466.2 C30.5,465.6 28.6,464.2 29.8,462.2 C31,460.3 33.2,460.3 32.7,459.3 C31.5,457.7 27.6,458.1 25.3,460.2 C22.9,462.5 22.1,466.6 22.7,469.5 C23.3,472.4 27,473.4 32.2,472.9" fill="none" stroke="#3a3a3a" stroke-width="1.0"/>
<path d="M31.8,470.5 C31.5,466 35.5,462.8 42,462.5 C46.5,462.3 50,463 52.5,464.5 C54.5,465.8 56.5,468 58.3,470.6 L57.8,471.8 C56,472.8 54.5,474.6 51.5,475.6 C46.5,477.2 38.5,477.2 34.5,476 C32.4,475.2 31.8,473 31.8,470.5 Z" fill="#3b3b3b"/>
<circle cx="50.6" cy="463.7" r="2.3" fill="#3b3b3b"/>
<path d="M34.5,476.6 L40,476.8 M47.5,476.2 L52,475.6" stroke="#8a8a8a" stroke-width="0.9"/>
<path d="M56.8,468.3 L59.6,466.8 M57.2,469.4 L60.2,469.2" stroke="#9a9a9a" stroke-width="0.4"/>
<circle cx="55.2" cy="467.4" r="0.45" fill="#ddd"/>
<text x="329.95" y="420.46" font-size="11.5" font-weight="bold" fill="#000" textLength="10.95" lengthAdjust="spacingAndGlyphs">M</text>
<line x1="358.70" y1="427.70" x2="358.70" y2="500.43" stroke="#231f20" stroke-width="1.25"/>
<line x1="355.70" y1="499.80" x2="358.70" y2="499.80" stroke="#231f20" stroke-width="1.25"/>
<text class="hv" x="353.90" y="502.55" font-size="8.0" fill="#231f20" text-anchor="end" stroke="#231f20" stroke-width="0.18">0</text>
<line x1="355.70" y1="485.54" x2="358.70" y2="485.54" stroke="#231f20" stroke-width="1.25"/>
<text class="hv" x="353.90" y="488.29" font-size="8.0" fill="#231f20" text-anchor="end" stroke="#231f20" stroke-width="0.18">10</text>
<line x1="355.70" y1="471.28" x2="358.70" y2="471.28" stroke="#231f20" stroke-width="1.25"/>
<text class="hv" x="353.90" y="474.03" font-size="8.0" fill="#231f20" text-anchor="end" stroke="#231f20" stroke-width="0.18">20</text>
<line x1="355.70" y1="457.02" x2="358.70" y2="457.02" stroke="#231f20" stroke-width="1.25"/>
<text class="hv" x="353.90" y="459.77" font-size="8.0" fill="#231f20" text-anchor="end" stroke="#231f20" stroke-width="0.18">30</text>
<line x1="355.70" y1="442.76" x2="358.70" y2="442.76" stroke="#231f20" stroke-width="1.25"/>
<text class="hv" x="353.90" y="445.51" font-size="8.0" fill="#231f20" text-anchor="end" stroke="#231f20" stroke-width="0.18">40</text>
<line x1="355.70" y1="428.50" x2="358.70" y2="428.50" stroke="#231f20" stroke-width="1.25"/>
<text class="hv" x="353.90" y="431.25" font-size="8.0" fill="#231f20" text-anchor="end" stroke="#231f20" stroke-width="0.18">50</text>
<line x1="355.70" y1="499.80" x2="466.20" y2="499.80" stroke="#231f20" stroke-width="1.25"/>
<line x1="368.00" y1="499.80" x2="368.00" y2="502.80" stroke="#231f20" stroke-width="1.25"/>
<line x1="390.40" y1="499.80" x2="390.40" y2="502.80" stroke="#231f20" stroke-width="1.25"/>
<line x1="412.40" y1="499.80" x2="412.40" y2="502.80" stroke="#231f20" stroke-width="1.25"/>
<line x1="434.50" y1="499.80" x2="434.50" y2="502.80" stroke="#231f20" stroke-width="1.25"/>
<line x1="456.60" y1="499.80" x2="456.60" y2="502.80" stroke="#231f20" stroke-width="1.25"/>
<rect x="361.20" y="479.00" width="4.50" height="20.80" fill="#e2849a"/>
<line x1="363.45" y1="479.00" x2="363.45" y2="468.43" stroke="#c9304f" stroke-width="0.8"/>
<line x1="362.15" y1="468.43" x2="364.75" y2="468.43" stroke="#c9304f" stroke-width="0.8"/>
<circle cx="362.86" cy="469.44" r="1.45" fill="none" stroke="#c9304f" stroke-width="0.7"/>
<circle cx="363.54" cy="472.68" r="1.45" fill="none" stroke="#c9304f" stroke-width="0.7"/>
<circle cx="362.95" cy="475.93" r="1.45" fill="none" stroke="#c9304f" stroke-width="0.7"/>
<circle cx="363.50" cy="478.72" r="1.45" fill="none" stroke="#c9304f" stroke-width="0.7"/>
<circle cx="362.42" cy="481.62" r="1.45" fill="none" stroke="#c9304f" stroke-width="0.7"/>
<circle cx="364.49" cy="484.13" r="1.45" fill="none" stroke="#c9304f" stroke-width="0.7"/>
<circle cx="363.08" cy="487.44" r="1.45" fill="none" stroke="#c9304f" stroke-width="0.7"/>
<rect x="369.60" y="483.80" width="4.80" height="16.00" fill="#86a9c8"/>
<line x1="372.00" y1="483.80" x2="372.00" y2="480.55" stroke="#2f6a9a" stroke-width="0.8"/>
<line x1="370.70" y1="480.55" x2="373.30" y2="480.55" stroke="#2f6a9a" stroke-width="0.8"/>
<circle cx="371.76" cy="481.09" r="1.45" fill="none" stroke="#2f6a9a" stroke-width="0.7"/>
<circle cx="372.32" cy="481.51" r="1.45" fill="none" stroke="#2f6a9a" stroke-width="0.7"/>
<circle cx="371.24" cy="483.31" r="1.45" fill="none" stroke="#2f6a9a" stroke-width="0.7"/>
<circle cx="372.23" cy="484.15" r="1.45" fill="none" stroke="#2f6a9a" stroke-width="0.7"/>
<circle cx="370.93" cy="484.48" r="1.45" fill="none" stroke="#2f6a9a" stroke-width="0.7"/>
<circle cx="372.08" cy="485.60" r="1.45" fill="none" stroke="#2f6a9a" stroke-width="0.7"/>
<circle cx="371.79" cy="485.94" r="1.45" fill="none" stroke="#2f6a9a" stroke-width="0.7"/>
<rect x="384.20" y="474.60" width="4.60" height="25.20" fill="#e2849a"/>
<line x1="386.50" y1="474.60" x2="386.50" y2="468.43" stroke="#c9304f" stroke-width="0.8"/>
<line x1="385.20" y1="468.43" x2="387.80" y2="468.43" stroke="#c9304f" stroke-width="0.8"/>
<circle cx="385.88" cy="468.84" r="1.45" fill="none" stroke="#c9304f" stroke-width="0.7"/>
<circle cx="386.55" cy="471.08" r="1.45" fill="none" stroke="#c9304f" stroke-width="0.7"/>
<circle cx="385.92" cy="472.22" r="1.45" fill="none" stroke="#c9304f" stroke-width="0.7"/>
<circle cx="387.18" cy="474.55" r="1.45" fill="none" stroke="#c9304f" stroke-width="0.7"/>
<circle cx="385.93" cy="476.10" r="1.45" fill="none" stroke="#c9304f" stroke-width="0.7"/>
<circle cx="387.47" cy="477.50" r="1.45" fill="none" stroke="#c9304f" stroke-width="0.7"/>
<circle cx="385.69" cy="479.46" r="1.45" fill="none" stroke="#c9304f" stroke-width="0.7"/>
<rect x="392.20" y="483.80" width="4.60" height="16.00" fill="#86a9c8"/>
<line x1="394.50" y1="483.80" x2="394.50" y2="478.41" stroke="#2f6a9a" stroke-width="0.8"/>
<line x1="393.20" y1="478.41" x2="395.80" y2="478.41" stroke="#2f6a9a" stroke-width="0.8"/>
<circle cx="394.37" cy="479.72" r="1.45" fill="none" stroke="#2f6a9a" stroke-width="0.7"/>
<circle cx="394.92" cy="480.55" r="1.45" fill="none" stroke="#2f6a9a" stroke-width="0.7"/>
<circle cx="393.52" cy="482.33" r="1.45" fill="none" stroke="#2f6a9a" stroke-width="0.7"/>
<circle cx="395.46" cy="483.81" r="1.45" fill="none" stroke="#2f6a9a" stroke-width="0.7"/>
<circle cx="394.37" cy="484.65" r="1.45" fill="none" stroke="#2f6a9a" stroke-width="0.7"/>
<circle cx="394.59" cy="485.95" r="1.45" fill="none" stroke="#2f6a9a" stroke-width="0.7"/>
<circle cx="394.26" cy="488.04" r="1.45" fill="none" stroke="#2f6a9a" stroke-width="0.7"/>
<rect x="405.60" y="483.80" width="4.60" height="16.00" fill="#e2849a"/>
<line x1="407.90" y1="483.80" x2="407.90" y2="473.42" stroke="#c9304f" stroke-width="0.8"/>
<line x1="406.60" y1="473.42" x2="409.20" y2="473.42" stroke="#c9304f" stroke-width="0.8"/>
<circle cx="407.88" cy="475.38" r="1.45" fill="none" stroke="#c9304f" stroke-width="0.7"/>
<circle cx="408.08" cy="478.09" r="1.45" fill="none" stroke="#c9304f" stroke-width="0.7"/>
<circle cx="406.92" cy="480.74" r="1.45" fill="none" stroke="#c9304f" stroke-width="0.7"/>
<circle cx="408.03" cy="482.95" r="1.45" fill="none" stroke="#c9304f" stroke-width="0.7"/>
<circle cx="407.18" cy="485.90" r="1.45" fill="none" stroke="#c9304f" stroke-width="0.7"/>
<circle cx="408.26" cy="489.17" r="1.45" fill="none" stroke="#c9304f" stroke-width="0.7"/>
<circle cx="407.19" cy="492.10" r="1.45" fill="none" stroke="#c9304f" stroke-width="0.7"/>
<rect x="414.00" y="489.20" width="4.80" height="10.60" fill="#86a9c8"/>
<line x1="416.40" y1="489.20" x2="416.40" y2="485.54" stroke="#2f6a9a" stroke-width="0.8"/>
<line x1="415.10" y1="485.54" x2="417.70" y2="485.54" stroke="#2f6a9a" stroke-width="0.8"/>
<circle cx="416.22" cy="486.49" r="1.45" fill="none" stroke="#2f6a9a" stroke-width="0.7"/>
<circle cx="416.78" cy="486.85" r="1.45" fill="none" stroke="#2f6a9a" stroke-width="0.7"/>
<circle cx="415.57" cy="488.37" r="1.45" fill="none" stroke="#2f6a9a" stroke-width="0.7"/>
<circle cx="416.56" cy="489.56" r="1.45" fill="none" stroke="#2f6a9a" stroke-width="0.7"/>
<circle cx="415.67" cy="489.79" r="1.45" fill="none" stroke="#2f6a9a" stroke-width="0.7"/>
<circle cx="416.79" cy="491.33" r="1.45" fill="none" stroke="#2f6a9a" stroke-width="0.7"/>
<circle cx="416.21" cy="491.80" r="1.45" fill="none" stroke="#2f6a9a" stroke-width="0.7"/>
<rect x="428.00" y="471.00" width="4.70" height="28.80" fill="#e2849a"/>
<line x1="430.35" y1="471.00" x2="430.35" y2="461.30" stroke="#c9304f" stroke-width="0.8"/>
<line x1="429.05" y1="461.30" x2="431.65" y2="461.30" stroke="#c9304f" stroke-width="0.8"/>
<circle cx="429.47" cy="462.87" r="1.45" fill="none" stroke="#c9304f" stroke-width="0.7"/>
<circle cx="430.56" cy="465.73" r="1.45" fill="none" stroke="#c9304f" stroke-width="0.7"/>
<circle cx="429.28" cy="467.30" r="1.45" fill="none" stroke="#c9304f" stroke-width="0.7"/>
<circle cx="430.75" cy="471.05" r="1.45" fill="none" stroke="#c9304f" stroke-width="0.7"/>
<circle cx="429.85" cy="473.53" r="1.45" fill="none" stroke="#c9304f" stroke-width="0.7"/>
<circle cx="431.07" cy="475.25" r="1.45" fill="none" stroke="#c9304f" stroke-width="0.7"/>
<circle cx="429.59" cy="478.78" r="1.45" fill="none" stroke="#c9304f" stroke-width="0.7"/>
<rect x="436.50" y="450.20" width="4.60" height="49.60" fill="#86a9c8"/>
<line x1="438.80" y1="450.20" x2="438.80" y2="435.63" stroke="#2f6a9a" stroke-width="0.8"/>
<line x1="437.50" y1="435.63" x2="440.10" y2="435.63" stroke="#2f6a9a" stroke-width="0.8"/>
<circle cx="437.70" cy="437.30" r="1.45" fill="none" stroke="#2f6a9a" stroke-width="0.7"/>
<circle cx="439.63" cy="441.66" r="1.45" fill="none" stroke="#2f6a9a" stroke-width="0.7"/>
<circle cx="438.52" cy="446.08" r="1.45" fill="none" stroke="#2f6a9a" stroke-width="0.7"/>
<circle cx="439.45" cy="449.66" r="1.45" fill="none" stroke="#2f6a9a" stroke-width="0.7"/>
<circle cx="438.02" cy="453.41" r="1.45" fill="none" stroke="#2f6a9a" stroke-width="0.7"/>
<circle cx="439.80" cy="457.15" r="1.45" fill="none" stroke="#2f6a9a" stroke-width="0.7"/>
<circle cx="438.49" cy="460.90" r="1.45" fill="none" stroke="#2f6a9a" stroke-width="0.7"/>
<rect x="450.20" y="457.90" width="4.50" height="41.90" fill="#e2849a"/>
<line x1="452.45" y1="457.90" x2="452.45" y2="454.17" stroke="#c9304f" stroke-width="0.8"/>
<line x1="451.15" y1="454.17" x2="453.75" y2="454.17" stroke="#c9304f" stroke-width="0.8"/>
<circle cx="452.21" cy="454.23" r="1.45" fill="none" stroke="#c9304f" stroke-width="0.7"/>
<circle cx="452.67" cy="456.07" r="1.45" fill="none" stroke="#c9304f" stroke-width="0.7"/>
<circle cx="451.51" cy="457.16" r="1.45" fill="none" stroke="#c9304f" stroke-width="0.7"/>
<circle cx="452.66" cy="457.58" r="1.45" fill="none" stroke="#c9304f" stroke-width="0.7"/>
<circle cx="452.24" cy="458.46" r="1.45" fill="none" stroke="#c9304f" stroke-width="0.7"/>
<circle cx="453.47" cy="459.37" r="1.45" fill="none" stroke="#c9304f" stroke-width="0.7"/>
<circle cx="451.44" cy="460.25" r="1.45" fill="none" stroke="#c9304f" stroke-width="0.7"/>
<rect x="458.50" y="461.20" width="4.40" height="38.60" fill="#86a9c8"/>
<line x1="460.70" y1="461.20" x2="460.70" y2="457.73" stroke="#2f6a9a" stroke-width="0.8"/>
<line x1="459.40" y1="457.73" x2="462.00" y2="457.73" stroke="#2f6a9a" stroke-width="0.8"/>
<circle cx="460.13" cy="457.94" r="1.45" fill="none" stroke="#2f6a9a" stroke-width="0.7"/>
<circle cx="461.57" cy="459.10" r="1.45" fill="none" stroke="#2f6a9a" stroke-width="0.7"/>
<circle cx="460.20" cy="460.14" r="1.45" fill="none" stroke="#2f6a9a" stroke-width="0.7"/>
<circle cx="461.00" cy="460.55" r="1.45" fill="none" stroke="#2f6a9a" stroke-width="0.7"/>
<circle cx="459.78" cy="461.97" r="1.45" fill="none" stroke="#2f6a9a" stroke-width="0.7"/>
<circle cx="460.88" cy="463.46" r="1.45" fill="none" stroke="#2f6a9a" stroke-width="0.7"/>
<circle cx="459.72" cy="463.92" r="1.45" fill="none" stroke="#2f6a9a" stroke-width="0.7"/>
<circle cx="430.5" cy="453.0" r="1.1" fill="none" stroke="#c9304f" stroke-width="0.6"/>
<line x1="360.60" y1="461.30" x2="376.90" y2="461.30" stroke="#505050" stroke-width="1.2"/>
<circle cx="368.75" cy="456.90" r="1.15" fill="#222"/>
<line x1="382.70" y1="461.30" x2="399.00" y2="461.30" stroke="#505050" stroke-width="1.2"/>
<circle cx="390.85" cy="456.90" r="1.15" fill="#222"/>
<line x1="404.20" y1="466.50" x2="420.80" y2="466.50" stroke="#505050" stroke-width="1.2"/>
<circle cx="412.50" cy="462.20" r="1.15" fill="#222"/>
<line x1="425.60" y1="430.00" x2="442.90" y2="430.00" stroke="#505050" stroke-width="1.2"/>
<circle cx="432.65" cy="426.00" r="1.15" fill="#222"/>
<circle cx="435.85" cy="426.00" r="1.15" fill="#222"/>
<line x1="449.20" y1="449.60" x2="465.40" y2="449.60" stroke="#505050" stroke-width="1.2"/>
<text x="451.91" y="447.01" font-size="7.6" fill="#333" textLength="9.62" lengthAdjust="spacingAndGlyphs" stroke="#333" stroke-width="0.18">ns</text>
<circle cx="471.20" cy="429.60" r="1.2" fill="#e2849a" stroke="#c9304f" stroke-width="0.45"/>
<circle cx="471.20" cy="441.00" r="1.2" fill="#86a9c8" stroke="#2f6a9a" stroke-width="0.45"/>
<text x="474.60" y="432.18" font-size="7.5" fill="#231f20" stroke="#231f20" stroke-width="0.18">Ctrl</text>
<text x="474.60" y="443.58" font-size="7.5" fill="#231f20" stroke="#231f20" stroke-width="0.18">KO</text>
<text class="hv" transform="translate(372.58,510.56) rotate(-45)" font-size="8.3" fill="#231f20" text-anchor="end" textLength="15.20" lengthAdjust="spacingAndGlyphs" stroke="#231f20" stroke-width="0.18">Gr-1</text>
<text class="hv" transform="translate(395.00,510.54) rotate(-45)" font-size="8.3" fill="#231f20" text-anchor="end" textLength="21.12" lengthAdjust="spacingAndGlyphs" stroke="#231f20" stroke-width="0.18">Mac-1</text>
<text class="hv" transform="translate(417.20,510.54) rotate(-45)" font-size="8.3" fill="#231f20" text-anchor="end" textLength="36.32" lengthAdjust="spacingAndGlyphs" stroke="#231f20" stroke-width="0.18">Gr-1Mac-1</text>
<text class="hv" transform="translate(439.53,510.61) rotate(-45)" font-size="8.3" fill="#231f20" text-anchor="end" textLength="17.75" lengthAdjust="spacingAndGlyphs" stroke="#231f20" stroke-width="0.18">B220</text>
<text class="hv" transform="translate(461.06,510.58) rotate(-45)" font-size="8.3" fill="#231f20" text-anchor="end" textLength="15.20" lengthAdjust="spacingAndGlyphs" stroke="#231f20" stroke-width="0.18">CD3</text>
<text transform="translate(338.22,492.92) rotate(-90)" font-size="8.5" font-weight="bold" fill="#231f20" textLength="60.16" lengthAdjust="spacingAndGlyphs">Percentage in PB %</text>
<text x="7.10" y="560.96" font-size="11.5" font-weight="bold" fill="#000" textLength="8.94" lengthAdjust="spacingAndGlyphs">N</text>
<line x1="38.40" y1="572.50" x2="38.40" y2="645.73" stroke="#231f20" stroke-width="1.25"/>
<line x1="35.40" y1="645.10" x2="38.40" y2="645.10" stroke="#231f20" stroke-width="1.25"/>
<text class="hv" x="34.20" y="647.85" font-size="8.0" fill="#231f20" text-anchor="end" stroke="#231f20" stroke-width="0.18">0</text>
<line x1="35.40" y1="627.15" x2="38.40" y2="627.15" stroke="#231f20" stroke-width="1.25"/>
<text class="hv" x="34.20" y="629.90" font-size="8.0" fill="#231f20" text-anchor="end" stroke="#231f20" stroke-width="0.18">20</text>
<line x1="35.40" y1="609.20" x2="38.40" y2="609.20" stroke="#231f20" stroke-width="1.25"/>
<text class="hv" x="34.20" y="611.95" font-size="8.0" fill="#231f20" text-anchor="end" stroke="#231f20" stroke-width="0.18">40</text>
<line x1="35.40" y1="591.25" x2="38.40" y2="591.25" stroke="#231f20" stroke-width="1.25"/>
<text class="hv" x="34.20" y="594.00" font-size="8.0" fill="#231f20" text-anchor="end" stroke="#231f20" stroke-width="0.18">60</text>
<line x1="35.40" y1="573.30" x2="38.40" y2="573.30" stroke="#231f20" stroke-width="1.25"/>
<text class="hv" x="34.20" y="576.05" font-size="8.0" fill="#231f20" text-anchor="end" stroke="#231f20" stroke-width="0.18">80</text>
<line x1="35.40" y1="645.10" x2="148.40" y2="645.10" stroke="#231f20" stroke-width="1.25"/>
<line x1="48.60" y1="645.10" x2="48.60" y2="648.10" stroke="#231f20" stroke-width="1.25"/>
<line x1="66.60" y1="645.10" x2="66.60" y2="648.10" stroke="#231f20" stroke-width="1.25"/>
<line x1="84.70" y1="645.10" x2="84.70" y2="648.10" stroke="#231f20" stroke-width="1.25"/>
<line x1="103.20" y1="645.10" x2="103.20" y2="648.10" stroke="#231f20" stroke-width="1.25"/>
<line x1="121.50" y1="645.10" x2="121.50" y2="648.10" stroke="#231f20" stroke-width="1.25"/>
<line x1="139.60" y1="645.10" x2="139.60" y2="648.10" stroke="#231f20" stroke-width="1.25"/>
<rect x="42.80" y="597.10" width="4.20" height="48.00" fill="#e2849a"/>
<line x1="44.90" y1="597.10" x2="44.90" y2="589.45" stroke="#c9304f" stroke-width="0.8"/>
<line x1="43.60" y1="589.45" x2="46.20" y2="589.45" stroke="#c9304f" stroke-width="0.8"/>
<circle cx="44.42" cy="589.95" r="1.45" fill="none" stroke="#c9304f" stroke-width="0.7"/>
<circle cx="45.08" cy="592.21" r="1.45" fill="none" stroke="#c9304f" stroke-width="0.7"/>
<circle cx="44.88" cy="594.89" r="1.45" fill="none" stroke="#c9304f" stroke-width="0.7"/>
<circle cx="45.21" cy="596.29" r="1.45" fill="none" stroke="#c9304f" stroke-width="0.7"/>
<circle cx="44.39" cy="599.22" r="1.45" fill="none" stroke="#c9304f" stroke-width="0.7"/>
<circle cx="45.11" cy="600.59" r="1.45" fill="none" stroke="#c9304f" stroke-width="0.7"/>
<circle cx="43.96" cy="602.36" r="1.45" fill="none" stroke="#c9304f" stroke-width="0.7"/>
<rect x="50.10" y="603.10" width="3.50" height="42.00" fill="#86a9c8"/>
<line x1="51.85" y1="603.10" x2="51.85" y2="595.74" stroke="#2f6a9a" stroke-width="0.8"/>
<line x1="50.55" y1="595.74" x2="53.15" y2="595.74" stroke="#2f6a9a" stroke-width="0.8"/>
<circle cx="51.02" cy="596.22" r="1.45" fill="none" stroke="#2f6a9a" stroke-width="0.7"/>
<circle cx="52.35" cy="598.53" r="1.45" fill="none" stroke="#2f6a9a" stroke-width="0.7"/>
<circle cx="50.90" cy="600.14" r="1.45" fill="none" stroke="#2f6a9a" stroke-width="0.7"/>
<circle cx="52.52" cy="602.47" r="1.45" fill="none" stroke="#2f6a9a" stroke-width="0.7"/>
<circle cx="51.70" cy="605.03" r="1.45" fill="none" stroke="#2f6a9a" stroke-width="0.7"/>
<circle cx="52.47" cy="606.96" r="1.45" fill="none" stroke="#2f6a9a" stroke-width="0.7"/>
<circle cx="51.33" cy="608.69" r="1.45" fill="none" stroke="#2f6a9a" stroke-width="0.7"/>
<rect x="61.10" y="598.90" width="4.20" height="46.20" fill="#e2849a"/>
<line x1="63.20" y1="598.90" x2="63.20" y2="589.45" stroke="#c9304f" stroke-width="0.8"/>
<line x1="61.90" y1="589.45" x2="64.50" y2="589.45" stroke="#c9304f" stroke-width="0.8"/>
<circle cx="62.26" cy="591.05" r="1.45" fill="none" stroke="#c9304f" stroke-width="0.7"/>
<circle cx="63.24" cy="593.47" r="1.45" fill="none" stroke="#c9304f" stroke-width="0.7"/>
<circle cx="62.62" cy="595.76" r="1.45" fill="none" stroke="#c9304f" stroke-width="0.7"/>
<circle cx="63.42" cy="598.07" r="1.45" fill="none" stroke="#c9304f" stroke-width="0.7"/>
<circle cx="62.66" cy="601.20" r="1.45" fill="none" stroke="#c9304f" stroke-width="0.7"/>
<circle cx="63.87" cy="604.12" r="1.45" fill="none" stroke="#c9304f" stroke-width="0.7"/>
<circle cx="62.26" cy="606.03" r="1.45" fill="none" stroke="#c9304f" stroke-width="0.7"/>
<rect x="68.60" y="603.10" width="3.40" height="42.00" fill="#86a9c8"/>
<line x1="70.30" y1="603.10" x2="70.30" y2="597.53" stroke="#2f6a9a" stroke-width="0.8"/>
<line x1="69.00" y1="597.53" x2="71.60" y2="597.53" stroke="#2f6a9a" stroke-width="0.8"/>
<circle cx="69.63" cy="597.80" r="1.45" fill="none" stroke="#2f6a9a" stroke-width="0.7"/>
<circle cx="71.10" cy="600.21" r="1.45" fill="none" stroke="#2f6a9a" stroke-width="0.7"/>
<circle cx="69.45" cy="601.43" r="1.45" fill="none" stroke="#2f6a9a" stroke-width="0.7"/>
<circle cx="70.68" cy="602.48" r="1.45" fill="none" stroke="#2f6a9a" stroke-width="0.7"/>
<circle cx="70.19" cy="604.67" r="1.45" fill="none" stroke="#2f6a9a" stroke-width="0.7"/>
<circle cx="71.29" cy="605.96" r="1.45" fill="none" stroke="#2f6a9a" stroke-width="0.7"/>
<circle cx="70.17" cy="607.75" r="1.45" fill="none" stroke="#2f6a9a" stroke-width="0.7"/>
<rect x="80.10" y="599.80" width="3.80" height="45.30" fill="#e2849a"/>
<line x1="82.00" y1="599.80" x2="82.00" y2="591.25" stroke="#c9304f" stroke-width="0.8"/>
<line x1="80.70" y1="591.25" x2="83.30" y2="591.25" stroke="#c9304f" stroke-width="0.8"/>
<circle cx="81.83" cy="592.29" r="1.45" fill="none" stroke="#c9304f" stroke-width="0.7"/>
<circle cx="83.06" cy="594.23" r="1.45" fill="none" stroke="#c9304f" stroke-width="0.7"/>
<circle cx="81.92" cy="597.15" r="1.45" fill="none" stroke="#c9304f" stroke-width="0.7"/>
<circle cx="82.07" cy="598.93" r="1.45" fill="none" stroke="#c9304f" stroke-width="0.7"/>
<circle cx="81.26" cy="601.67" r="1.45" fill="none" stroke="#c9304f" stroke-width="0.7"/>
<circle cx="83.08" cy="603.81" r="1.45" fill="none" stroke="#c9304f" stroke-width="0.7"/>
<circle cx="81.05" cy="606.57" r="1.45" fill="none" stroke="#c9304f" stroke-width="0.7"/>
<rect x="87.00" y="605.30" width="3.50" height="39.80" fill="#86a9c8"/>
<line x1="88.75" y1="605.30" x2="88.75" y2="599.33" stroke="#2f6a9a" stroke-width="0.8"/>
<line x1="87.45" y1="599.33" x2="90.05" y2="599.33" stroke="#2f6a9a" stroke-width="0.8"/>
<circle cx="88.18" cy="600.06" r="1.45" fill="none" stroke="#2f6a9a" stroke-width="0.7"/>
<circle cx="88.86" cy="602.03" r="1.45" fill="none" stroke="#2f6a9a" stroke-width="0.7"/>
<circle cx="87.94" cy="603.42" r="1.45" fill="none" stroke="#2f6a9a" stroke-width="0.7"/>
<circle cx="89.00" cy="605.00" r="1.45" fill="none" stroke="#2f6a9a" stroke-width="0.7"/>
<circle cx="87.68" cy="607.02" r="1.45" fill="none" stroke="#2f6a9a" stroke-width="0.7"/>
<circle cx="89.50" cy="607.91" r="1.45" fill="none" stroke="#2f6a9a" stroke-width="0.7"/>
<circle cx="88.53" cy="610.44" r="1.45" fill="none" stroke="#2f6a9a" stroke-width="0.7"/>
<rect x="98.00" y="626.30" width="4.10" height="18.80" fill="#e2849a"/>
<line x1="100.05" y1="626.30" x2="100.05" y2="620.87" stroke="#c9304f" stroke-width="0.8"/>
<line x1="98.75" y1="620.87" x2="101.35" y2="620.87" stroke="#c9304f" stroke-width="0.8"/>
<circle cx="99.76" cy="621.02" r="1.45" fill="none" stroke="#c9304f" stroke-width="0.7"/>
<circle cx="100.63" cy="622.85" r="1.45" fill="none" stroke="#c9304f" stroke-width="0.7"/>
<circle cx="99.33" cy="624.84" r="1.45" fill="none" stroke="#c9304f" stroke-width="0.7"/>
<circle cx="100.26" cy="626.44" r="1.45" fill="none" stroke="#c9304f" stroke-width="0.7"/>
<circle cx="99.23" cy="627.98" r="1.45" fill="none" stroke="#c9304f" stroke-width="0.7"/>
<circle cx="100.35" cy="629.54" r="1.45" fill="none" stroke="#c9304f" stroke-width="0.7"/>
<circle cx="99.30" cy="630.07" r="1.45" fill="none" stroke="#c9304f" stroke-width="0.7"/>
<rect x="105.50" y="625.40" width="3.50" height="19.70" fill="#86a9c8"/>
<line x1="107.25" y1="625.40" x2="107.25" y2="618.17" stroke="#2f6a9a" stroke-width="0.8"/>
<line x1="105.95" y1="618.17" x2="108.55" y2="618.17" stroke="#2f6a9a" stroke-width="0.8"/>
<circle cx="106.49" cy="619.16" r="1.45" fill="none" stroke="#2f6a9a" stroke-width="0.7"/>
<circle cx="108.18" cy="621.32" r="1.45" fill="none" stroke="#2f6a9a" stroke-width="0.7"/>
<circle cx="107.18" cy="623.50" r="1.45" fill="none" stroke="#2f6a9a" stroke-width="0.7"/>
<circle cx="107.65" cy="624.70" r="1.45" fill="none" stroke="#2f6a9a" stroke-width="0.7"/>
<circle cx="107.05" cy="626.59" r="1.45" fill="none" stroke="#2f6a9a" stroke-width="0.7"/>
<circle cx="107.61" cy="629.17" r="1.45" fill="none" stroke="#2f6a9a" stroke-width="0.7"/>
<circle cx="106.23" cy="630.74" r="1.45" fill="none" stroke="#2f6a9a" stroke-width="0.7"/>
<rect x="116.50" y="630.00" width="3.80" height="15.10" fill="#e2849a"/>
<line x1="118.40" y1="630.00" x2="118.40" y2="626.25" stroke="#c9304f" stroke-width="0.8"/>
<line x1="117.10" y1="626.25" x2="119.70" y2="626.25" stroke="#c9304f" stroke-width="0.8"/>
<circle cx="118.12" cy="626.50" r="1.45" fill="none" stroke="#c9304f" stroke-width="0.7"/>
<circle cx="119.15" cy="628.11" r="1.45" fill="none" stroke="#c9304f" stroke-width="0.7"/>
<circle cx="117.34" cy="628.26" r="1.45" fill="none" stroke="#c9304f" stroke-width="0.7"/>
<circle cx="119.10" cy="630.17" r="1.45" fill="none" stroke="#c9304f" stroke-width="0.7"/>
<circle cx="118.02" cy="630.54" r="1.45" fill="none" stroke="#c9304f" stroke-width="0.7"/>
<circle cx="118.60" cy="631.93" r="1.45" fill="none" stroke="#c9304f" stroke-width="0.7"/>
<circle cx="117.30" cy="633.26" r="1.45" fill="none" stroke="#c9304f" stroke-width="0.7"/>
<rect x="123.40" y="628.10" width="3.50" height="17.00" fill="#86a9c8"/>
<line x1="125.15" y1="628.10" x2="125.15" y2="623.56" stroke="#2f6a9a" stroke-width="0.8"/>
<line x1="123.85" y1="623.56" x2="126.45" y2="623.56" stroke="#2f6a9a" stroke-width="0.8"/>
<circle cx="124.37" cy="624.24" r="1.45" fill="none" stroke="#2f6a9a" stroke-width="0.7"/>
<circle cx="126.17" cy="624.84" r="1.45" fill="none" stroke="#2f6a9a" stroke-width="0.7"/>
<circle cx="124.80" cy="627.20" r="1.45" fill="none" stroke="#2f6a9a" stroke-width="0.7"/>
<circle cx="125.37" cy="627.62" r="1.45" fill="none" stroke="#2f6a9a" stroke-width="0.7"/>
<circle cx="125.08" cy="629.28" r="1.45" fill="none" stroke="#2f6a9a" stroke-width="0.7"/>
<circle cx="125.69" cy="629.96" r="1.45" fill="none" stroke="#2f6a9a" stroke-width="0.7"/>
<circle cx="124.80" cy="631.41" r="1.45" fill="none" stroke="#2f6a9a" stroke-width="0.7"/>
<rect x="135.00" y="640.90" width="3.40" height="4.20" fill="#e2849a"/>
<line x1="136.70" y1="640.90" x2="136.70" y2="640.16" stroke="#c9304f" stroke-width="0.8"/>
<line x1="135.40" y1="640.16" x2="138.00" y2="640.16" stroke="#c9304f" stroke-width="0.8"/>
<circle cx="136.66" cy="639.79" r="1.45" fill="none" stroke="#c9304f" stroke-width="0.7"/>
<circle cx="136.85" cy="640.60" r="1.45" fill="none" stroke="#c9304f" stroke-width="0.7"/>
<circle cx="136.11" cy="641.12" r="1.45" fill="none" stroke="#c9304f" stroke-width="0.7"/>
<circle cx="137.23" cy="641.19" r="1.45" fill="none" stroke="#c9304f" stroke-width="0.7"/>
<circle cx="135.77" cy="641.36" r="1.45" fill="none" stroke="#c9304f" stroke-width="0.7"/>
<circle cx="136.84" cy="641.64" r="1.45" fill="none" stroke="#c9304f" stroke-width="0.7"/>
<circle cx="136.62" cy="642.42" r="1.45" fill="none" stroke="#c9304f" stroke-width="0.7"/>
<rect x="141.30" y="640.90" width="3.40" height="4.20" fill="#86a9c8"/>
<line x1="143.00" y1="640.90" x2="143.00" y2="639.72" stroke="#2f6a9a" stroke-width="0.8"/>
<line x1="141.70" y1="639.72" x2="144.30" y2="639.72" stroke="#2f6a9a" stroke-width="0.8"/>
<circle cx="142.62" cy="640.01" r="1.45" fill="none" stroke="#2f6a9a" stroke-width="0.7"/>
<circle cx="143.88" cy="640.67" r="1.45" fill="none" stroke="#2f6a9a" stroke-width="0.7"/>
<circle cx="142.25" cy="640.27" r="1.45" fill="none" stroke="#2f6a9a" stroke-width="0.7"/>
<circle cx="143.15" cy="641.76" r="1.45" fill="none" stroke="#2f6a9a" stroke-width="0.7"/>
<circle cx="142.22" cy="641.92" r="1.45" fill="none" stroke="#2f6a9a" stroke-width="0.7"/>
<circle cx="143.66" cy="642.40" r="1.45" fill="none" stroke="#2f6a9a" stroke-width="0.7"/>
<circle cx="142.10" cy="643.09" r="1.45" fill="none" stroke="#2f6a9a" stroke-width="0.7"/>
<line x1="41.10" y1="582.50" x2="57.00" y2="582.50" stroke="#505050" stroke-width="1.2"/>
<circle cx="49.05" cy="578.00" r="1.15" fill="#222"/>
<line x1="59.40" y1="582.50" x2="75.80" y2="582.50" stroke="#505050" stroke-width="1.2"/>
<circle cx="67.60" cy="578.00" r="1.15" fill="#222"/>
<line x1="78.60" y1="585.60" x2="95.00" y2="585.60" stroke="#505050" stroke-width="1.2"/>
<circle cx="86.80" cy="581.20" r="1.15" fill="#222"/>
<line x1="96.00" y1="609.30" x2="112.00" y2="609.30" stroke="#505050" stroke-width="1.2"/>
<text x="99.43" y="607.31" font-size="7.6" fill="#333" textLength="9.29" lengthAdjust="spacingAndGlyphs" stroke="#333" stroke-width="0.18">ns</text>
<line x1="114.80" y1="617.50" x2="130.70" y2="617.50" stroke="#505050" stroke-width="1.2"/>
<text x="118.80" y="615.51" font-size="7.6" fill="#333" textLength="8.18" lengthAdjust="spacingAndGlyphs" stroke="#333" stroke-width="0.18">ns</text>
<line x1="132.90" y1="634.00" x2="148.90" y2="634.00" stroke="#505050" stroke-width="1.2"/>
<text x="136.50" y="631.41" font-size="7.6" fill="#333" textLength="8.18" lengthAdjust="spacingAndGlyphs" stroke="#333" stroke-width="0.18">ns</text>
<circle cx="152.60" cy="574.20" r="1.2" fill="#e2849a" stroke="#c9304f" stroke-width="0.45"/>
<circle cx="152.60" cy="585.60" r="1.2" fill="#86a9c8" stroke="#2f6a9a" stroke-width="0.45"/>
<text x="156.60" y="576.78" font-size="7.5" fill="#231f20" stroke="#231f20" stroke-width="0.18">Ctrl</text>
<text x="156.60" y="588.18" font-size="7.5" fill="#231f20" stroke="#231f20" stroke-width="0.18">KO</text>
<text class="hv" transform="translate(52.58,656.06) rotate(-45)" font-size="8.3" fill="#231f20" text-anchor="end" textLength="15.20" lengthAdjust="spacingAndGlyphs" stroke="#231f20" stroke-width="0.18">Gr-1</text>
<text class="hv" transform="translate(71.50,656.04) rotate(-45)" font-size="8.3" fill="#231f20" text-anchor="end" textLength="21.12" lengthAdjust="spacingAndGlyphs" stroke="#231f20" stroke-width="0.18">Mac-1</text>
<text class="hv" transform="translate(89.00,656.04) rotate(-45)" font-size="8.3" fill="#231f20" text-anchor="end" textLength="36.32" lengthAdjust="spacingAndGlyphs" stroke="#231f20" stroke-width="0.18">Gr-1Mac-1</text>
<text class="hv" transform="translate(107.00,656.04) rotate(-45)" font-size="8.3" fill="#231f20" text-anchor="end" textLength="22.67" lengthAdjust="spacingAndGlyphs" stroke="#231f20" stroke-width="0.18">Ter119</text>
<text class="hv" transform="translate(123.93,656.11) rotate(-45)" font-size="8.3" fill="#231f20" text-anchor="end" textLength="17.75" lengthAdjust="spacingAndGlyphs" stroke="#231f20" stroke-width="0.18">B220</text>
<text class="hv" transform="translate(144.16,656.08) rotate(-45)" font-size="8.3" fill="#231f20" text-anchor="end" textLength="15.20" lengthAdjust="spacingAndGlyphs" stroke="#231f20" stroke-width="0.18">CD3</text>
<text transform="translate(18.42,637.71) rotate(-90)" font-size="8.5" font-weight="bold" fill="#231f20" textLength="59.95" lengthAdjust="spacingAndGlyphs">Percentage in BM %</text>
<text x="183.74" y="561.06" font-size="11.5" font-weight="bold" fill="#000" textLength="8.95" lengthAdjust="spacingAndGlyphs">O</text>
<line x1="207.00" y1="572.20" x2="207.00" y2="645.62" stroke="#231f20" stroke-width="1.25"/>
<line x1="204.00" y1="645.00" x2="207.00" y2="645.00" stroke="#231f20" stroke-width="1.25"/>
<text class="hv" x="202.20" y="647.75" font-size="8.0" fill="#231f20" text-anchor="end" stroke="#231f20" stroke-width="0.18">0</text>
<line x1="204.00" y1="621.00" x2="207.00" y2="621.00" stroke="#231f20" stroke-width="1.25"/>
<text class="hv" x="202.20" y="623.75" font-size="8.0" fill="#231f20" text-anchor="end" stroke="#231f20" stroke-width="0.18">1</text>
<line x1="204.00" y1="597.00" x2="207.00" y2="597.00" stroke="#231f20" stroke-width="1.25"/>
<text class="hv" x="202.20" y="599.75" font-size="8.0" fill="#231f20" text-anchor="end" stroke="#231f20" stroke-width="0.18">2</text>
<line x1="204.00" y1="573.00" x2="207.00" y2="573.00" stroke="#231f20" stroke-width="1.25"/>
<text class="hv" x="202.20" y="575.75" font-size="8.0" fill="#231f20" text-anchor="end" stroke="#231f20" stroke-width="0.18">3</text>
<line x1="204.00" y1="645.00" x2="315.40" y2="645.00" stroke="#231f20" stroke-width="1.25"/>
<line x1="217.50" y1="645.00" x2="217.50" y2="648.00" stroke="#231f20" stroke-width="1.25"/>
<line x1="239.50" y1="645.00" x2="239.50" y2="648.00" stroke="#231f20" stroke-width="1.25"/>
<line x1="261.60" y1="645.00" x2="261.60" y2="648.00" stroke="#231f20" stroke-width="1.25"/>
<line x1="283.60" y1="645.00" x2="283.60" y2="648.00" stroke="#231f20" stroke-width="1.25"/>
<line x1="306.00" y1="645.00" x2="306.00" y2="648.00" stroke="#231f20" stroke-width="1.25"/>
<rect x="211.00" y="600.00" width="5.20" height="45.00" fill="#e2849a"/>
<line x1="213.60" y1="600.00" x2="213.60" y2="588.60" stroke="#c9304f" stroke-width="0.8"/>
<line x1="212.30" y1="588.60" x2="214.90" y2="588.60" stroke="#c9304f" stroke-width="0.8"/>
<circle cx="213.42" cy="590.26" r="1.45" fill="none" stroke="#c9304f" stroke-width="0.7"/>
<circle cx="214.07" cy="593.06" r="1.45" fill="none" stroke="#c9304f" stroke-width="0.7"/>
<circle cx="213.19" cy="595.74" r="1.45" fill="none" stroke="#c9304f" stroke-width="0.7"/>
<circle cx="213.75" cy="599.25" r="1.45" fill="none" stroke="#c9304f" stroke-width="0.7"/>
<circle cx="213.33" cy="602.91" r="1.45" fill="none" stroke="#c9304f" stroke-width="0.7"/>
<circle cx="213.70" cy="605.53" r="1.45" fill="none" stroke="#c9304f" stroke-width="0.7"/>
<circle cx="212.64" cy="608.81" r="1.45" fill="none" stroke="#c9304f" stroke-width="0.7"/>
<rect x="219.10" y="602.10" width="4.90" height="42.90" fill="#86a9c8"/>
<line x1="221.55" y1="602.10" x2="221.55" y2="598.92" stroke="#2f6a9a" stroke-width="0.8"/>
<line x1="220.25" y1="598.92" x2="222.85" y2="598.92" stroke="#2f6a9a" stroke-width="0.8"/>
<circle cx="220.48" cy="599.23" r="1.45" fill="none" stroke="#2f6a9a" stroke-width="0.7"/>
<circle cx="221.82" cy="600.57" r="1.45" fill="none" stroke="#2f6a9a" stroke-width="0.7"/>
<circle cx="220.49" cy="601.07" r="1.45" fill="none" stroke="#2f6a9a" stroke-width="0.7"/>
<circle cx="221.65" cy="601.89" r="1.45" fill="none" stroke="#2f6a9a" stroke-width="0.7"/>
<circle cx="221.06" cy="602.49" r="1.45" fill="none" stroke="#2f6a9a" stroke-width="0.7"/>
<circle cx="222.16" cy="603.87" r="1.45" fill="none" stroke="#2f6a9a" stroke-width="0.7"/>
<circle cx="220.50" cy="604.24" r="1.45" fill="none" stroke="#2f6a9a" stroke-width="0.7"/>
<rect x="233.00" y="639.30" width="4.70" height="5.70" fill="#e2849a"/>
<line x1="235.35" y1="639.30" x2="235.35" y2="634.20" stroke="#c9304f" stroke-width="0.8"/>
<line x1="234.05" y1="634.20" x2="236.65" y2="634.20" stroke="#c9304f" stroke-width="0.8"/>
<circle cx="234.80" cy="635.45" r="1.45" fill="none" stroke="#c9304f" stroke-width="0.7"/>
<circle cx="236.20" cy="636.32" r="1.45" fill="none" stroke="#c9304f" stroke-width="0.7"/>
<circle cx="234.98" cy="637.72" r="1.45" fill="none" stroke="#c9304f" stroke-width="0.7"/>
<circle cx="236.42" cy="639.01" r="1.45" fill="none" stroke="#c9304f" stroke-width="0.7"/>
<circle cx="235.23" cy="640.06" r="1.45" fill="none" stroke="#c9304f" stroke-width="0.7"/>
<circle cx="236.07" cy="641.26" r="1.45" fill="none" stroke="#c9304f" stroke-width="0.7"/>
<circle cx="235.32" cy="643.08" r="1.45" fill="none" stroke="#c9304f" stroke-width="0.7"/>
<rect x="241.60" y="638.50" width="4.40" height="6.50" fill="#86a9c8"/>
<line x1="243.80" y1="638.50" x2="243.80" y2="637.08" stroke="#2f6a9a" stroke-width="0.8"/>
<line x1="242.50" y1="637.08" x2="245.10" y2="637.08" stroke="#2f6a9a" stroke-width="0.8"/>
<circle cx="243.36" cy="636.76" r="1.45" fill="none" stroke="#2f6a9a" stroke-width="0.7"/>
<circle cx="244.25" cy="638.38" r="1.45" fill="none" stroke="#2f6a9a" stroke-width="0.7"/>
<circle cx="242.93" cy="637.94" r="1.45" fill="none" stroke="#2f6a9a" stroke-width="0.7"/>
<circle cx="244.71" cy="639.38" r="1.45" fill="none" stroke="#2f6a9a" stroke-width="0.7"/>
<circle cx="243.52" cy="639.81" r="1.45" fill="none" stroke="#2f6a9a" stroke-width="0.7"/>
<circle cx="244.40" cy="639.48" r="1.45" fill="none" stroke="#2f6a9a" stroke-width="0.7"/>
<circle cx="243.05" cy="640.28" r="1.45" fill="none" stroke="#2f6a9a" stroke-width="0.7"/>
<rect x="254.60" y="632.30" width="5.40" height="12.70" fill="#e2849a"/>
<line x1="257.30" y1="632.30" x2="257.30" y2="630.60" stroke="#c9304f" stroke-width="0.8"/>
<line x1="256.00" y1="630.60" x2="258.60" y2="630.60" stroke="#c9304f" stroke-width="0.8"/>
<circle cx="256.66" cy="630.42" r="1.45" fill="none" stroke="#c9304f" stroke-width="0.7"/>
<circle cx="257.55" cy="631.31" r="1.45" fill="none" stroke="#c9304f" stroke-width="0.7"/>
<circle cx="256.47" cy="632.34" r="1.45" fill="none" stroke="#c9304f" stroke-width="0.7"/>
<circle cx="257.36" cy="632.39" r="1.45" fill="none" stroke="#c9304f" stroke-width="0.7"/>
<circle cx="256.98" cy="632.66" r="1.45" fill="none" stroke="#c9304f" stroke-width="0.7"/>
<circle cx="258.32" cy="633.71" r="1.45" fill="none" stroke="#c9304f" stroke-width="0.7"/>
<circle cx="257.20" cy="633.80" r="1.45" fill="none" stroke="#c9304f" stroke-width="0.7"/>
<rect x="263.70" y="637.30" width="4.90" height="7.70" fill="#86a9c8"/>
<line x1="266.15" y1="637.30" x2="266.15" y2="635.40" stroke="#2f6a9a" stroke-width="0.8"/>
<line x1="264.85" y1="635.40" x2="267.45" y2="635.40" stroke="#2f6a9a" stroke-width="0.8"/>
<circle cx="265.95" cy="635.30" r="1.45" fill="none" stroke="#2f6a9a" stroke-width="0.7"/>
<circle cx="266.77" cy="636.32" r="1.45" fill="none" stroke="#2f6a9a" stroke-width="0.7"/>
<circle cx="265.39" cy="636.95" r="1.45" fill="none" stroke="#2f6a9a" stroke-width="0.7"/>
<circle cx="266.92" cy="637.09" r="1.45" fill="none" stroke="#2f6a9a" stroke-width="0.7"/>
<circle cx="265.24" cy="637.52" r="1.45" fill="none" stroke="#2f6a9a" stroke-width="0.7"/>
<circle cx="267.20" cy="638.80" r="1.45" fill="none" stroke="#2f6a9a" stroke-width="0.7"/>
<circle cx="265.40" cy="639.16" r="1.45" fill="none" stroke="#2f6a9a" stroke-width="0.7"/>
<rect x="277.00" y="626.80" width="5.00" height="18.20" fill="#e2849a"/>
<line x1="279.50" y1="626.80" x2="279.50" y2="619.80" stroke="#c9304f" stroke-width="0.8"/>
<line x1="278.20" y1="619.80" x2="280.80" y2="619.80" stroke="#c9304f" stroke-width="0.8"/>
<circle cx="278.76" cy="620.67" r="1.45" fill="none" stroke="#c9304f" stroke-width="0.7"/>
<circle cx="280.36" cy="622.68" r="1.45" fill="none" stroke="#c9304f" stroke-width="0.7"/>
<circle cx="279.46" cy="624.18" r="1.45" fill="none" stroke="#c9304f" stroke-width="0.7"/>
<circle cx="280.54" cy="626.77" r="1.45" fill="none" stroke="#c9304f" stroke-width="0.7"/>
<circle cx="279.44" cy="628.00" r="1.45" fill="none" stroke="#c9304f" stroke-width="0.7"/>
<circle cx="280.49" cy="630.52" r="1.45" fill="none" stroke="#c9304f" stroke-width="0.7"/>
<circle cx="279.42" cy="632.00" r="1.45" fill="none" stroke="#c9304f" stroke-width="0.7"/>
<rect x="285.00" y="628.10" width="5.20" height="16.90" fill="#86a9c8"/>
<line x1="287.60" y1="628.10" x2="287.60" y2="626.28" stroke="#2f6a9a" stroke-width="0.8"/>
<line x1="286.30" y1="626.28" x2="288.90" y2="626.28" stroke="#2f6a9a" stroke-width="0.8"/>
<circle cx="286.91" cy="626.72" r="1.45" fill="none" stroke="#2f6a9a" stroke-width="0.7"/>
<circle cx="287.83" cy="626.86" r="1.45" fill="none" stroke="#2f6a9a" stroke-width="0.7"/>
<circle cx="287.22" cy="627.88" r="1.45" fill="none" stroke="#2f6a9a" stroke-width="0.7"/>
<circle cx="287.83" cy="628.21" r="1.45" fill="none" stroke="#2f6a9a" stroke-width="0.7"/>
<circle cx="286.77" cy="628.65" r="1.45" fill="none" stroke="#2f6a9a" stroke-width="0.7"/>
<circle cx="288.42" cy="628.71" r="1.45" fill="none" stroke="#2f6a9a" stroke-width="0.7"/>
<circle cx="286.69" cy="629.69" r="1.45" fill="none" stroke="#2f6a9a" stroke-width="0.7"/>
<circle cx="213.5" cy="585.0" r="1.1" fill="none" stroke="#c9304f" stroke-width="0.6"/>
<circle cx="279.5" cy="612.6" r="1.1" fill="none" stroke="#c9304f" stroke-width="0.6"/>
<circle cx="300.5" cy="644.6" r="1.1" fill="none" stroke="#c9304f" stroke-width="0.6"/>
<circle cx="302.5" cy="644.6" r="1.1" fill="none" stroke="#c9304f" stroke-width="0.6"/>
<circle cx="308.5" cy="644.6" r="1.1" fill="none" stroke="#2f6a9a" stroke-width="0.6"/>
<circle cx="310.5" cy="644.6" r="1.1" fill="none" stroke="#2f6a9a" stroke-width="0.6"/>
<line x1="210.50" y1="579.10" x2="226.60" y2="579.10" stroke="#505050" stroke-width="1.2"/>
<text x="213.37" y="576.81" font-size="7.6" fill="#333" textLength="8.63" lengthAdjust="spacingAndGlyphs" stroke="#333" stroke-width="0.18">ns</text>
<line x1="232.10" y1="629.30" x2="249.10" y2="629.30" stroke="#505050" stroke-width="1.2"/>
<text x="235.89" y="626.61" font-size="7.6" fill="#333" textLength="8.29" lengthAdjust="spacingAndGlyphs" stroke="#333" stroke-width="0.18">ns</text>
<line x1="253.70" y1="625.40" x2="269.70" y2="625.40" stroke="#505050" stroke-width="1.2"/>
<circle cx="260.10" cy="621.50" r="1.15" fill="#222"/>
<circle cx="263.30" cy="621.50" r="1.15" fill="#222"/>
<line x1="276.10" y1="607.50" x2="292.60" y2="607.50" stroke="#505050" stroke-width="1.2"/>
<text x="279.54" y="605.11" font-size="7.6" fill="#333" textLength="9.18" lengthAdjust="spacingAndGlyphs" stroke="#333" stroke-width="0.18">ns</text>
<line x1="297.90" y1="639.10" x2="314.30" y2="639.10" stroke="#505050" stroke-width="1.2"/>
<text x="301.44" y="636.51" font-size="7.6" fill="#333" textLength="9.18" lengthAdjust="spacingAndGlyphs" stroke="#333" stroke-width="0.18">ns</text>
<circle cx="319.40" cy="574.20" r="1.2" fill="#e2849a" stroke="#c9304f" stroke-width="0.45"/>
<circle cx="319.40" cy="585.60" r="1.2" fill="#86a9c8" stroke="#2f6a9a" stroke-width="0.45"/>
<text x="323.60" y="576.78" font-size="7.5" fill="#231f20" stroke="#231f20" stroke-width="0.18">Ctrl</text>
<text x="323.60" y="588.18" font-size="7.5" fill="#231f20" stroke="#231f20" stroke-width="0.18">KO</text>
<text class="hv" transform="translate(219.65,656.29) rotate(-45)" font-size="8.3" fill="#231f20" text-anchor="end" textLength="18.59" lengthAdjust="spacingAndGlyphs" stroke="#231f20" stroke-width="0.18">LKS–</text>
<text class="hv" transform="translate(241.52,656.02) rotate(-45)" font-size="8.3" fill="#231f20" text-anchor="end" textLength="16.89" lengthAdjust="spacingAndGlyphs" stroke="#231f20" stroke-width="0.18">CMP</text>
<text class="hv" transform="translate(263.52,656.01) rotate(-45)" font-size="8.3" fill="#231f20" text-anchor="end" textLength="17.31" lengthAdjust="spacingAndGlyphs" stroke="#231f20" stroke-width="0.18">GMP</text>
<text class="hv" transform="translate(285.12,656.02) rotate(-45)" font-size="8.3" fill="#231f20" text-anchor="end" textLength="16.47" lengthAdjust="spacingAndGlyphs" stroke="#231f20" stroke-width="0.18">MEP</text>
<text class="hv" transform="translate(308.81,656.03) rotate(-45)" font-size="8.3" fill="#231f20" text-anchor="end" textLength="14.78" lengthAdjust="spacingAndGlyphs" stroke="#231f20" stroke-width="0.18">CLP</text>
<text transform="translate(191.92,638.92) rotate(-90)" font-size="8.5" font-weight="bold" fill="#231f20" textLength="61.16" lengthAdjust="spacingAndGlyphs">Percentage in BM %</text>
<text x="350.12" y="560.96" font-size="11.5" font-weight="bold" fill="#000" textLength="9.01" lengthAdjust="spacingAndGlyphs">P</text>
<line x1="385.30" y1="572.40" x2="385.30" y2="645.62" stroke="#231f20" stroke-width="1.25"/>
<line x1="382.30" y1="645.00" x2="385.30" y2="645.00" stroke="#231f20" stroke-width="1.25"/>
<text class="hv" x="381.60" y="647.75" font-size="8.0" fill="#231f20" text-anchor="end" stroke="#231f20" stroke-width="0.18">0.00</text>
<line x1="382.30" y1="630.64" x2="385.30" y2="630.64" stroke="#231f20" stroke-width="1.25"/>
<text class="hv" x="381.60" y="633.39" font-size="8.0" fill="#231f20" text-anchor="end" stroke="#231f20" stroke-width="0.18">0.05</text>
<line x1="382.30" y1="616.28" x2="385.30" y2="616.28" stroke="#231f20" stroke-width="1.25"/>
<text class="hv" x="381.60" y="619.03" font-size="8.0" fill="#231f20" text-anchor="end" stroke="#231f20" stroke-width="0.18">0.10</text>
<line x1="382.30" y1="601.92" x2="385.30" y2="601.92" stroke="#231f20" stroke-width="1.25"/>
<text class="hv" x="381.60" y="604.67" font-size="8.0" fill="#231f20" text-anchor="end" stroke="#231f20" stroke-width="0.18">0.15</text>
<line x1="382.30" y1="587.56" x2="385.30" y2="587.56" stroke="#231f20" stroke-width="1.25"/>
<text class="hv" x="381.60" y="590.31" font-size="8.0" fill="#231f20" text-anchor="end" stroke="#231f20" stroke-width="0.18">0.20</text>
<line x1="382.30" y1="573.20" x2="385.30" y2="573.20" stroke="#231f20" stroke-width="1.25"/>
<text class="hv" x="381.60" y="575.95" font-size="8.0" fill="#231f20" text-anchor="end" stroke="#231f20" stroke-width="0.18">0.25</text>
<line x1="382.30" y1="645.00" x2="492.90" y2="645.00" stroke="#231f20" stroke-width="1.25"/>
<line x1="397.70" y1="645.00" x2="397.70" y2="648.00" stroke="#231f20" stroke-width="1.25"/>
<line x1="425.30" y1="645.00" x2="425.30" y2="648.00" stroke="#231f20" stroke-width="1.25"/>
<line x1="453.70" y1="645.00" x2="453.70" y2="648.00" stroke="#231f20" stroke-width="1.25"/>
<line x1="481.40" y1="645.00" x2="481.40" y2="648.00" stroke="#231f20" stroke-width="1.25"/>
<rect x="389.30" y="610.80" width="6.10" height="34.20" fill="#e2849a"/>
<line x1="392.35" y1="610.80" x2="392.35" y2="593.50" stroke="#c9304f" stroke-width="0.8"/>
<line x1="391.05" y1="593.50" x2="393.65" y2="593.50" stroke="#c9304f" stroke-width="0.8"/>
<circle cx="391.41" cy="595.62" r="1.45" fill="none" stroke="#c9304f" stroke-width="0.7"/>
<circle cx="392.95" cy="600.25" r="1.45" fill="none" stroke="#c9304f" stroke-width="0.7"/>
<circle cx="391.31" cy="605.61" r="1.45" fill="none" stroke="#c9304f" stroke-width="0.7"/>
<circle cx="392.66" cy="610.01" r="1.45" fill="none" stroke="#c9304f" stroke-width="0.7"/>
<circle cx="392.12" cy="614.97" r="1.45" fill="none" stroke="#c9304f" stroke-width="0.7"/>
<circle cx="393.34" cy="619.28" r="1.45" fill="none" stroke="#c9304f" stroke-width="0.7"/>
<circle cx="391.30" cy="624.55" r="1.45" fill="none" stroke="#c9304f" stroke-width="0.7"/>
<rect x="399.70" y="606.40" width="6.40" height="38.60" fill="#86a9c8"/>
<line x1="402.90" y1="606.40" x2="402.90" y2="596.00" stroke="#2f6a9a" stroke-width="0.8"/>
<line x1="401.60" y1="596.00" x2="404.20" y2="596.00" stroke="#2f6a9a" stroke-width="0.8"/>
<circle cx="402.69" cy="597.41" r="1.45" fill="none" stroke="#2f6a9a" stroke-width="0.7"/>
<circle cx="403.77" cy="600.15" r="1.45" fill="none" stroke="#2f6a9a" stroke-width="0.7"/>
<circle cx="402.16" cy="603.45" r="1.45" fill="none" stroke="#2f6a9a" stroke-width="0.7"/>
<circle cx="403.11" cy="606.23" r="1.45" fill="none" stroke="#2f6a9a" stroke-width="0.7"/>
<circle cx="401.86" cy="609.06" r="1.45" fill="none" stroke="#2f6a9a" stroke-width="0.7"/>
<circle cx="403.64" cy="611.40" r="1.45" fill="none" stroke="#2f6a9a" stroke-width="0.7"/>
<circle cx="402.82" cy="614.89" r="1.45" fill="none" stroke="#2f6a9a" stroke-width="0.7"/>
<rect x="416.30" y="638.10" width="6.80" height="6.90" fill="#e2849a"/>
<line x1="419.70" y1="638.10" x2="419.70" y2="636.00" stroke="#c9304f" stroke-width="0.8"/>
<line x1="418.40" y1="636.00" x2="421.00" y2="636.00" stroke="#c9304f" stroke-width="0.8"/>
<circle cx="418.95" cy="636.68" r="1.45" fill="none" stroke="#c9304f" stroke-width="0.7"/>
<circle cx="420.62" cy="636.40" r="1.45" fill="none" stroke="#c9304f" stroke-width="0.7"/>
<circle cx="419.51" cy="637.64" r="1.45" fill="none" stroke="#c9304f" stroke-width="0.7"/>
<circle cx="420.54" cy="637.94" r="1.45" fill="none" stroke="#c9304f" stroke-width="0.7"/>
<circle cx="419.02" cy="638.70" r="1.45" fill="none" stroke="#c9304f" stroke-width="0.7"/>
<circle cx="420.23" cy="639.11" r="1.45" fill="none" stroke="#c9304f" stroke-width="0.7"/>
<circle cx="418.94" cy="639.69" r="1.45" fill="none" stroke="#c9304f" stroke-width="0.7"/>
<rect x="427.30" y="634.90" width="7.00" height="10.10" fill="#86a9c8"/>
<line x1="430.80" y1="634.90" x2="430.80" y2="632.50" stroke="#2f6a9a" stroke-width="0.8"/>
<line x1="429.50" y1="632.50" x2="432.10" y2="632.50" stroke="#2f6a9a" stroke-width="0.8"/>
<circle cx="429.71" cy="632.53" r="1.45" fill="none" stroke="#2f6a9a" stroke-width="0.7"/>
<circle cx="431.77" cy="633.29" r="1.45" fill="none" stroke="#2f6a9a" stroke-width="0.7"/>
<circle cx="429.87" cy="634.47" r="1.45" fill="none" stroke="#2f6a9a" stroke-width="0.7"/>
<circle cx="431.62" cy="635.26" r="1.45" fill="none" stroke="#2f6a9a" stroke-width="0.7"/>
<circle cx="429.82" cy="636.02" r="1.45" fill="none" stroke="#2f6a9a" stroke-width="0.7"/>
<circle cx="431.24" cy="636.36" r="1.45" fill="none" stroke="#2f6a9a" stroke-width="0.7"/>
<circle cx="430.04" cy="636.71" r="1.45" fill="none" stroke="#2f6a9a" stroke-width="0.7"/>
<rect x="444.90" y="630.70" width="7.00" height="14.30" fill="#e2849a"/>
<line x1="448.40" y1="630.70" x2="448.40" y2="620.00" stroke="#c9304f" stroke-width="0.8"/>
<line x1="447.10" y1="620.00" x2="449.70" y2="620.00" stroke="#c9304f" stroke-width="0.8"/>
<circle cx="448.29" cy="620.96" r="1.45" fill="none" stroke="#c9304f" stroke-width="0.7"/>
<circle cx="449.37" cy="624.24" r="1.45" fill="none" stroke="#c9304f" stroke-width="0.7"/>
<circle cx="447.67" cy="626.66" r="1.45" fill="none" stroke="#c9304f" stroke-width="0.7"/>
<circle cx="448.93" cy="629.68" r="1.45" fill="none" stroke="#c9304f" stroke-width="0.7"/>
<circle cx="447.81" cy="633.19" r="1.45" fill="none" stroke="#c9304f" stroke-width="0.7"/>
<circle cx="448.60" cy="635.77" r="1.45" fill="none" stroke="#c9304f" stroke-width="0.7"/>
<circle cx="447.76" cy="638.75" r="1.45" fill="none" stroke="#c9304f" stroke-width="0.7"/>
<rect x="455.50" y="631.70" width="7.00" height="13.30" fill="#86a9c8"/>
<line x1="459.00" y1="631.70" x2="459.00" y2="624.00" stroke="#2f6a9a" stroke-width="0.8"/>
<line x1="457.70" y1="624.00" x2="460.30" y2="624.00" stroke="#2f6a9a" stroke-width="0.8"/>
<circle cx="458.89" cy="624.50" r="1.45" fill="none" stroke="#2f6a9a" stroke-width="0.7"/>
<circle cx="459.45" cy="627.70" r="1.45" fill="none" stroke="#2f6a9a" stroke-width="0.7"/>
<circle cx="458.35" cy="629.49" r="1.45" fill="none" stroke="#2f6a9a" stroke-width="0.7"/>
<circle cx="459.25" cy="631.71" r="1.45" fill="none" stroke="#2f6a9a" stroke-width="0.7"/>
<circle cx="458.78" cy="633.81" r="1.45" fill="none" stroke="#2f6a9a" stroke-width="0.7"/>
<circle cx="459.36" cy="635.63" r="1.45" fill="none" stroke="#2f6a9a" stroke-width="0.7"/>
<circle cx="458.98" cy="637.79" r="1.45" fill="none" stroke="#2f6a9a" stroke-width="0.7"/>
<rect x="472.40" y="633.90" width="7.00" height="11.10" fill="#e2849a"/>
<line x1="475.90" y1="633.90" x2="475.90" y2="624.00" stroke="#c9304f" stroke-width="0.8"/>
<line x1="474.60" y1="624.00" x2="477.20" y2="624.00" stroke="#c9304f" stroke-width="0.8"/>
<circle cx="474.93" cy="625.25" r="1.45" fill="none" stroke="#c9304f" stroke-width="0.7"/>
<circle cx="476.24" cy="627.93" r="1.45" fill="none" stroke="#c9304f" stroke-width="0.7"/>
<circle cx="475.77" cy="630.59" r="1.45" fill="none" stroke="#c9304f" stroke-width="0.7"/>
<circle cx="476.98" cy="633.17" r="1.45" fill="none" stroke="#c9304f" stroke-width="0.7"/>
<circle cx="475.23" cy="635.63" r="1.45" fill="none" stroke="#c9304f" stroke-width="0.7"/>
<circle cx="476.36" cy="638.23" r="1.45" fill="none" stroke="#c9304f" stroke-width="0.7"/>
<circle cx="475.72" cy="641.02" r="1.45" fill="none" stroke="#c9304f" stroke-width="0.7"/>
<rect x="483.00" y="630.70" width="7.40" height="14.30" fill="#86a9c8"/>
<line x1="486.70" y1="630.70" x2="486.70" y2="627.00" stroke="#2f6a9a" stroke-width="0.8"/>
<line x1="485.40" y1="627.00" x2="488.00" y2="627.00" stroke="#2f6a9a" stroke-width="0.8"/>
<circle cx="486.14" cy="627.69" r="1.45" fill="none" stroke="#2f6a9a" stroke-width="0.7"/>
<circle cx="486.78" cy="628.03" r="1.45" fill="none" stroke="#2f6a9a" stroke-width="0.7"/>
<circle cx="486.06" cy="629.89" r="1.45" fill="none" stroke="#2f6a9a" stroke-width="0.7"/>
<circle cx="487.57" cy="630.57" r="1.45" fill="none" stroke="#2f6a9a" stroke-width="0.7"/>
<circle cx="485.70" cy="631.36" r="1.45" fill="none" stroke="#2f6a9a" stroke-width="0.7"/>
<circle cx="487.71" cy="632.82" r="1.45" fill="none" stroke="#2f6a9a" stroke-width="0.7"/>
<circle cx="486.14" cy="633.75" r="1.45" fill="none" stroke="#2f6a9a" stroke-width="0.7"/>
<circle cx="392.3" cy="579.0" r="1.1" fill="none" stroke="#c9304f" stroke-width="0.6"/>
<circle cx="448.4" cy="614.0" r="1.1" fill="none" stroke="#c9304f" stroke-width="0.6"/>
<circle cx="475.9" cy="614.5" r="1.1" fill="none" stroke="#c9304f" stroke-width="0.6"/>
<line x1="390.20" y1="573.00" x2="406.60" y2="573.00" stroke="#505050" stroke-width="1.2"/>
<text x="393.99" y="570.91" font-size="7.6" fill="#333" textLength="8.29" lengthAdjust="spacingAndGlyphs" stroke="#333" stroke-width="0.18">ns</text>
<line x1="418.00" y1="628.60" x2="434.30" y2="628.60" stroke="#505050" stroke-width="1.2"/>
<circle cx="424.55" cy="624.40" r="1.15" fill="#222"/>
<circle cx="427.75" cy="624.40" r="1.15" fill="#222"/>
<line x1="444.90" y1="609.50" x2="462.50" y2="609.50" stroke="#505050" stroke-width="1.2"/>
<text x="449.70" y="606.71" font-size="7.6" fill="#333" textLength="8.18" lengthAdjust="spacingAndGlyphs" stroke="#333" stroke-width="0.18">ns</text>
<line x1="473.50" y1="610.20" x2="490.80" y2="610.20" stroke="#505050" stroke-width="1.2"/>
<text x="477.58" y="607.31" font-size="7.6" fill="#333" textLength="8.41" lengthAdjust="spacingAndGlyphs" stroke="#333" stroke-width="0.18">ns</text>
<circle cx="497.80" cy="574.00" r="1.2" fill="#e2849a" stroke="#c9304f" stroke-width="0.45"/>
<circle cx="497.80" cy="585.60" r="1.2" fill="#86a9c8" stroke="#2f6a9a" stroke-width="0.45"/>
<text x="501.40" y="576.58" font-size="7.5" fill="#231f20" stroke="#231f20" stroke-width="0.18">Ctrl</text>
<text x="501.40" y="588.18" font-size="7.5" fill="#231f20" stroke="#231f20" stroke-width="0.18">KO</text>
<text class="hv" transform="translate(401.89,656.24) rotate(-45)" font-size="8.3" fill="#231f20" text-anchor="end" textLength="14.37" lengthAdjust="spacingAndGlyphs" stroke="#231f20" stroke-width="0.18">LSK</text>
<text class="hv" transform="translate(430.04,656.10) rotate(-45)" font-size="8.3" fill="#231f20" text-anchor="end" textLength="26.46" lengthAdjust="spacingAndGlyphs" stroke="#231f20" stroke-width="0.18">LT-HSC</text>
<text class="hv" transform="translate(457.74,656.10) rotate(-45)" font-size="8.3" fill="#231f20" text-anchor="end" textLength="27.87" lengthAdjust="spacingAndGlyphs" stroke="#231f20" stroke-width="0.18">ST-HSC</text>
<text class="hv" transform="translate(483.42,656.02) rotate(-45)" font-size="8.3" fill="#231f20" text-anchor="end" textLength="16.47" lengthAdjust="spacingAndGlyphs" stroke="#231f20" stroke-width="0.18">MPP</text>
<text transform="translate(358.42,638.92) rotate(-90)" font-size="8.5" font-weight="bold" fill="#231f20" textLength="61.16" lengthAdjust="spacingAndGlyphs">Percentage in BM %</text>
<defs><filter id="bl" x="-20%" y="-20%" width="140%" height="140%"><feGaussianBlur stdDeviation="0.45"/></filter><filter id="bl2" x="-20%" y="-20%" width="140%" height="140%"><feGaussianBlur stdDeviation="0.7"/></filter></defs>
<text x="7.38" y="16.26" font-size="11.5" font-weight="bold" fill="#000" textLength="9.16" lengthAdjust="spacingAndGlyphs">A</text>
<text x="86.44" y="18.34" font-size="10" fill="#231f20" textLength="39.77" lengthAdjust="spacingAndGlyphs" stroke="#231f20" stroke-width="0.18">Cell cycle</text>
<text x="58.90" y="29.96" font-size="8.3" fill="#231f20" textLength="12.53" lengthAdjust="spacingAndGlyphs" stroke="#231f20" stroke-width="0.18">Ctrl</text>
<text x="142.18" y="29.96" font-size="8.3" fill="#231f20" textLength="11.21" lengthAdjust="spacingAndGlyphs" stroke="#231f20" stroke-width="0.18">KO</text>
<line x1="18.00" y1="46.50" x2="18.00" y2="106.30" stroke="#231f20" stroke-width="1.4"/>
<path d="M18.0,43.0 L15.9,47.2 L20.1,47.2 Z" fill="#231f20"/>
<line x1="17.30" y1="105.60" x2="181.00" y2="105.60" stroke="#231f20" stroke-width="1.4"/>
<path d="M184.5,105.6 L180.3,103.5 L180.3,107.69999999999999 Z" fill="#231f20"/>
<text transform="translate(13.61,79.71) rotate(-90)" font-size="7.0" font-weight="bold" fill="#231f20" textLength="10.22" lengthAdjust="spacingAndGlyphs">Ki67</text>
<text x="163.41" y="114.41" font-size="7.0" font-weight="bold" fill="#231f20" textLength="14.79" lengthAdjust="spacingAndGlyphs">7-AAD</text>
<rect x="35.00" y="33.50" width="61.00" height="59.60" fill="none" stroke="#d4d4d4" stroke-width="0.8"/>
<path d="M34.2,35.5 L34.2,93.1" stroke="#9a9a9a" stroke-width="0.9" stroke-dasharray="0.7 1.9"/>
<path d="M36.0,94.0 L94.0,94.0" stroke="#9a9a9a" stroke-width="0.9" stroke-dasharray="0.7 2.3"/>
<text x="32.00" y="40.20" font-size="5.8" fill="#4a4a4a" text-anchor="end" style="stroke:none" stroke="#4a4a4a" stroke-width="0.18">10<tspan font-size="3.48" dy="-2.61">5</tspan></text>
<line x1="33.50" y1="38.20" x2="35.00" y2="38.20" stroke="#4a4a4a" stroke-width="0.6"/>
<text x="32.00" y="51.90" font-size="5.8" fill="#4a4a4a" text-anchor="end" style="stroke:none" stroke="#4a4a4a" stroke-width="0.18">10<tspan font-size="3.48" dy="-2.61">4</tspan></text>
<line x1="33.50" y1="49.90" x2="35.00" y2="49.90" stroke="#4a4a4a" stroke-width="0.6"/>
<text x="32.00" y="64.90" font-size="5.8" fill="#4a4a4a" text-anchor="end" style="stroke:none" stroke="#4a4a4a" stroke-width="0.18">10<tspan font-size="3.48" dy="-2.61">3</tspan></text>
<line x1="33.50" y1="62.90" x2="35.00" y2="62.90" stroke="#4a4a4a" stroke-width="0.6"/>
<text x="30.40" y="82.70" font-size="5.8" fill="#4a4a4a" text-anchor="end" stroke="#4a4a4a" stroke-width="0.18">0</text>
<line x1="33.50" y1="80.70" x2="35.00" y2="80.70" stroke="#4a4a4a" stroke-width="0.6"/>
<text x="38.20" y="102.00" font-size="6.1" fill="#4a4a4a" text-anchor="middle" stroke="#4a4a4a" stroke-width="0.18">0</text>
<line x1="38.20" y1="93.10" x2="38.20" y2="94.60" stroke="#4a4a4a" stroke-width="0.7"/>
<text x="54.30" y="102.00" font-size="6.1" fill="#4a4a4a" text-anchor="middle" stroke="#4a4a4a" stroke-width="0.18">50K</text>
<line x1="54.30" y1="93.10" x2="54.30" y2="94.60" stroke="#4a4a4a" stroke-width="0.7"/>
<text x="70.50" y="102.00" font-size="6.1" fill="#4a4a4a" text-anchor="middle" stroke="#4a4a4a" stroke-width="0.18">100K</text>
<line x1="70.50" y1="93.10" x2="70.50" y2="94.60" stroke="#4a4a4a" stroke-width="0.7"/>
<text x="87.00" y="102.00" font-size="6.1" fill="#4a4a4a" text-anchor="middle" stroke="#4a4a4a" stroke-width="0.18">150K</text>
<line x1="87.00" y1="93.10" x2="87.00" y2="94.60" stroke="#4a4a4a" stroke-width="0.7"/>
<rect x="118.70" y="33.50" width="61.00" height="59.60" fill="none" stroke="#d4d4d4" stroke-width="0.8"/>
<path d="M117.9,35.5 L117.9,93.1" stroke="#9a9a9a" stroke-width="0.9" stroke-dasharray="0.7 1.9"/>
<path d="M119.7,94.0 L177.7,94.0" stroke="#9a9a9a" stroke-width="0.9" stroke-dasharray="0.7 2.3"/>
<text x="115.70" y="40.20" font-size="5.8" fill="#4a4a4a" text-anchor="end" style="stroke:none" stroke="#4a4a4a" stroke-width="0.18">10<tspan font-size="3.48" dy="-2.61">5</tspan></text>
<line x1="117.20" y1="38.20" x2="118.70" y2="38.20" stroke="#4a4a4a" stroke-width="0.6"/>
<text x="115.70" y="51.90" font-size="5.8" fill="#4a4a4a" text-anchor="end" style="stroke:none" stroke="#4a4a4a" stroke-width="0.18">10<tspan font-size="3.48" dy="-2.61">4</tspan></text>
<line x1="117.20" y1="49.90" x2="118.70" y2="49.90" stroke="#4a4a4a" stroke-width="0.6"/>
<text x="115.70" y="64.90" font-size="5.8" fill="#4a4a4a" text-anchor="end" style="stroke:none" stroke="#4a4a4a" stroke-width="0.18">10<tspan font-size="3.48" dy="-2.61">3</tspan></text>
<line x1="117.20" y1="62.90" x2="118.70" y2="62.90" stroke="#4a4a4a" stroke-width="0.6"/>
<text x="114.10" y="82.70" font-size="5.8" fill="#4a4a4a" text-anchor="end" stroke="#4a4a4a" stroke-width="0.18">0</text>
<line x1="117.20" y1="80.70" x2="118.70" y2="80.70" stroke="#4a4a4a" stroke-width="0.6"/>
<text x="121.90" y="102.00" font-size="6.1" fill="#4a4a4a" text-anchor="middle" stroke="#4a4a4a" stroke-width="0.18">0</text>
<line x1="121.90" y1="93.10" x2="121.90" y2="94.60" stroke="#4a4a4a" stroke-width="0.7"/>
<text x="138.00" y="102.00" font-size="6.1" fill="#4a4a4a" text-anchor="middle" stroke="#4a4a4a" stroke-width="0.18">50K</text>
<line x1="138.00" y1="93.10" x2="138.00" y2="94.60" stroke="#4a4a4a" stroke-width="0.7"/>
<text x="154.20" y="102.00" font-size="6.1" fill="#4a4a4a" text-anchor="middle" stroke="#4a4a4a" stroke-width="0.18">100K</text>
<line x1="154.20" y1="93.10" x2="154.20" y2="94.60" stroke="#4a4a4a" stroke-width="0.7"/>
<text x="170.70" y="102.00" font-size="6.1" fill="#4a4a4a" text-anchor="middle" stroke="#4a4a4a" stroke-width="0.18">150K</text>
<line x1="170.70" y1="93.10" x2="170.70" y2="94.60" stroke="#4a4a4a" stroke-width="0.7"/>
<g filter="url(#bl)"><path d="M38.50,63.10 C39.64,61.48 38.29,61.38 41.50,60.00 C44.71,58.62 45.51,59.19 49.20,58.50 C52.89,57.81 51.94,57.70 53.80,57.70 C55.66,57.70 53.78,56.88 55.40,58.50 C57.02,60.12 58.96,60.58 59.20,63.10 C59.44,65.62 58.96,64.38 56.20,66.90 C53.44,69.42 52.55,69.19 50.00,71.50 C47.45,73.81 49.56,71.81 47.70,74.60 C45.84,77.39 45.66,77.80 43.80,80.80 C41.94,83.80 42.88,83.70 41.50,84.60 C40.12,85.50 40.34,85.42 39.20,83.80 C38.06,82.18 38.27,83.34 37.70,79.20 C37.13,75.06 37.30,74.14 37.30,70.00 C37.30,65.86 37.34,67.47 37.70,65.40 C38.06,63.33 37.36,64.72 38.50,63.10Z" fill="#0a14d2" stroke="#0a14d2" stroke-width="0.5"/><path d="M39.22,63.64 C40.23,62.20 39.03,62.11 41.88,60.88 C44.74,59.65 45.45,60.16 48.74,59.55 C52.02,58.93 51.18,58.83 52.83,58.83 C54.49,58.83 52.81,58.10 54.26,59.55 C55.70,60.99 57.42,61.40 57.64,63.64 C57.85,65.88 57.42,64.78 54.97,67.02 C52.51,69.26 51.72,69.06 49.45,71.11 C47.18,73.17 49.06,71.39 47.40,73.87 C45.75,76.36 45.59,76.72 43.93,79.39 C42.28,82.06 43.11,81.97 41.88,82.77 C40.66,83.58 40.85,83.50 39.84,82.06 C38.82,80.62 39.01,81.65 38.50,77.97 C38.00,74.28 38.15,73.46 38.15,69.78 C38.15,66.10 38.18,67.53 38.50,65.69 C38.82,63.84 38.20,65.08 39.22,63.64Z" fill="#0a2cff" stroke="#0a2cff" stroke-width="0.5"/><path d="M38.50,63.50 C39.64,61.04 39.30,61.76 42.00,60.80 C44.70,59.84 45.10,59.85 47.50,60.30 C49.90,60.75 49.85,60.44 50.00,62.30 C50.15,64.16 49.35,63.89 48.00,66.50 C46.65,69.11 47.00,68.00 45.50,71.00 C44.00,74.00 44.50,74.10 43.00,76.50 C41.50,78.90 41.82,79.15 40.50,79.00 C39.18,78.85 39.29,79.00 38.60,76.00 C37.91,73.00 38.23,72.75 38.20,69.00 C38.17,65.25 37.36,65.96 38.50,63.50Z" fill="#00b8ff" stroke="#00b8ff" stroke-width="0.5"/><path d="M39.50,64.50 C40.64,62.61 40.90,62.77 43.00,62.20 C45.10,61.63 45.51,61.52 46.50,62.60 C47.49,63.68 47.05,63.64 46.30,65.80 C45.55,67.96 45.29,67.49 44.00,69.80 C42.71,72.11 43.20,72.54 42.00,73.50 C40.80,74.46 40.84,74.50 40.00,73.00 C39.16,71.50 39.35,71.05 39.20,68.50 C39.05,65.95 38.36,66.39 39.50,64.50Z" fill="#5ee05a" stroke="#5ee05a" stroke-width="0.5"/><path d="M40.30,65.60 C41.23,64.46 41.89,64.03 43.30,64.00 C44.71,63.97 44.85,64.06 45.00,65.50 C45.15,66.94 44.70,67.00 43.80,68.80 C42.90,70.60 42.99,70.99 42.00,71.50 C41.01,72.01 41.04,71.61 40.50,70.50 C39.96,69.39 40.26,69.27 40.20,67.80 C40.14,66.33 39.37,66.74 40.30,65.60Z" fill="#ffe600" stroke="#ffe600" stroke-width="0.5"/><ellipse cx="42.4" cy="67.6" rx="1.7" ry="2.1" fill="#ff8a00"/><ellipse cx="42.3" cy="67.7" rx="1.0" ry="1.4" fill="#e01c00"/></g>
<g filter="url(#bl)"><path d="M121.50,64.60 C123.12,62.50 122.65,63.24 126.10,61.50 C129.55,59.76 129.79,59.61 133.00,58.80 C136.21,57.99 134.94,58.20 136.80,58.80 C138.66,59.40 137.34,59.63 139.20,60.80 C141.06,61.97 141.74,61.56 143.00,62.70 C144.26,63.84 144.09,63.10 143.40,64.60 C142.71,66.10 143.37,65.39 140.70,67.70 C138.03,70.01 137.74,69.75 134.50,72.30 C131.26,74.85 132.42,73.44 129.90,76.20 C127.38,78.96 127.93,79.22 126.10,81.50 C124.27,83.78 125.09,83.56 123.80,83.80 C122.51,84.04 122.73,84.82 121.80,82.30 C120.87,79.78 121.03,79.54 120.70,75.40 C120.37,71.26 120.46,71.74 120.70,68.50 C120.94,65.26 119.88,66.70 121.50,64.60Z" fill="#0a14d2" stroke="#0a14d2" stroke-width="0.5"/><path d="M122.33,64.97 C123.77,63.10 123.35,63.76 126.42,62.22 C129.49,60.67 129.70,60.53 132.56,59.81 C135.42,59.09 134.29,59.28 135.94,59.81 C137.60,60.35 136.42,60.55 138.08,61.59 C139.73,62.63 140.34,62.27 141.46,63.28 C142.58,64.30 142.43,63.64 141.82,64.97 C141.20,66.31 141.79,65.68 139.41,67.73 C137.04,69.79 136.78,69.56 133.90,71.83 C131.01,74.10 132.04,72.84 129.80,75.30 C127.56,77.75 128.05,77.99 126.42,80.02 C124.79,82.04 125.52,81.85 124.37,82.06 C123.22,82.28 123.42,82.97 122.59,80.73 C121.76,78.48 121.91,78.27 121.61,74.59 C121.32,70.90 121.40,71.33 121.61,68.44 C121.83,65.56 120.88,66.84 122.33,64.97Z" fill="#0a2cff" stroke="#0a2cff" stroke-width="0.5"/><path d="M121.80,65.50 C123.09,63.25 123.04,63.70 125.50,62.50 C127.96,61.30 127.90,61.20 130.00,61.50 C132.10,61.80 132.20,61.85 132.50,63.50 C132.80,65.15 132.20,64.90 131.00,67.00 C129.80,69.10 129.85,68.10 128.50,70.50 C127.15,72.90 127.70,72.30 126.50,75.00 C125.30,77.70 125.70,77.85 124.50,79.50 C123.30,81.15 123.46,81.55 122.50,80.50 C121.54,79.45 121.69,79.15 121.30,76.00 C120.91,72.85 121.05,73.15 121.20,70.00 C121.35,66.85 120.51,67.75 121.80,65.50Z" fill="#00b8ff" stroke="#00b8ff" stroke-width="0.5"/><path d="M122.50,66.80 C123.58,65.24 123.91,64.90 125.80,64.30 C127.69,63.70 127.99,63.69 128.80,64.80 C129.61,65.91 129.19,65.99 128.50,68.00 C127.81,70.01 127.55,69.25 126.50,71.50 C125.45,73.75 125.96,74.00 125.00,75.50 C124.04,77.00 124.14,77.25 123.30,76.50 C122.46,75.75 122.53,75.10 122.20,73.00 C121.87,70.90 122.11,71.36 122.20,69.50 C122.29,67.64 121.42,68.36 122.50,66.80Z" fill="#5ee05a" stroke="#5ee05a" stroke-width="0.5"/><path d="M123.20,68.00 C124.07,66.80 124.60,66.41 125.80,66.50 C127.00,66.59 127.08,66.80 127.20,68.30 C127.32,69.80 126.92,69.79 126.20,71.50 C125.48,73.21 125.70,73.40 124.80,74.00 C123.90,74.60 123.77,74.55 123.20,73.50 C122.63,72.45 122.90,72.15 122.90,70.50 C122.90,68.85 122.33,69.20 123.20,68.00Z" fill="#ffe600" stroke="#ffe600" stroke-width="0.5"/><ellipse cx="124.9" cy="70.6" rx="1.6" ry="2.3" fill="#ff8a00"/><ellipse cx="124.9" cy="70.8" rx="1.0" ry="1.5" fill="#e01c00"/></g>
<line x1="49.90" y1="33.50" x2="49.90" y2="93.10" stroke="#383838" stroke-width="0.65"/>
<line x1="35.00" y1="66.40" x2="96.00" y2="66.40" stroke="#383838" stroke-width="0.65"/>
<line x1="132.70" y1="33.50" x2="132.70" y2="93.10" stroke="#383838" stroke-width="0.65"/>
<line x1="118.70" y1="66.40" x2="179.70" y2="66.40" stroke="#383838" stroke-width="0.65"/>
<text x="35.52" y="40.07" font-size="6.3" fill="#333" textLength="15.67" lengthAdjust="spacingAndGlyphs" style="stroke:none" stroke="#333" stroke-width="0.18">29.0%</text>
<text x="77.75" y="40.07" font-size="6.3" fill="#333" textLength="14.44" lengthAdjust="spacingAndGlyphs" style="stroke:none" stroke="#333" stroke-width="0.18">7.55%</text>
<text x="38.93" y="90.47" font-size="6.3" fill="#333" textLength="15.05" lengthAdjust="spacingAndGlyphs" style="stroke:none" stroke="#333" stroke-width="0.18">61.3%</text>
<text x="121.70" y="40.07" font-size="6.3" fill="#333" textLength="14.98" lengthAdjust="spacingAndGlyphs" style="stroke:none" stroke="#333" stroke-width="0.18">10.3%</text>
<text x="160.98" y="40.07" font-size="6.3" fill="#333" textLength="15.51" lengthAdjust="spacingAndGlyphs" style="stroke:none" stroke="#333" stroke-width="0.18">5.69%</text>
<text x="121.86" y="90.47" font-size="6.3" fill="#333" textLength="15.34" lengthAdjust="spacingAndGlyphs" style="stroke:none" stroke="#333" stroke-width="0.18">81.3%</text>
<text x="7.17" y="138.46" font-size="11.5" font-weight="bold" fill="#000" textLength="9.28" lengthAdjust="spacingAndGlyphs">D</text>
<text x="60.36" y="137.04" font-size="10" fill="#231f20" textLength="92.47" lengthAdjust="spacingAndGlyphs" stroke="#231f20" stroke-width="0.18">Proliferation/Apoptosis</text>
<text x="58.90" y="148.86" font-size="8.3" fill="#231f20" textLength="12.53" lengthAdjust="spacingAndGlyphs" stroke="#231f20" stroke-width="0.18">Ctrl</text>
<text x="142.18" y="148.46" font-size="8.3" fill="#231f20" textLength="11.21" lengthAdjust="spacingAndGlyphs" stroke="#231f20" stroke-width="0.18">KO</text>
<line x1="17.90" y1="161.80" x2="17.90" y2="234.40" stroke="#231f20" stroke-width="1.4"/>
<path d="M17.9,158.3 L15.799999999999999,162.5 L20.0,162.5 Z" fill="#231f20"/>
<line x1="17.20" y1="233.70" x2="181.00" y2="233.70" stroke="#231f20" stroke-width="1.4"/>
<path d="M184.5,233.7 L180.3,231.6 L180.3,235.79999999999998 Z" fill="#231f20"/>
<text transform="translate(14.01,201.79) rotate(-90)" font-size="7.0" font-weight="bold" fill="#231f20" textLength="11.09" lengthAdjust="spacingAndGlyphs">BrdU</text>
<text x="163.41" y="243.41" font-size="7.0" font-weight="bold" fill="#231f20" textLength="14.79" lengthAdjust="spacingAndGlyphs">7-AAD</text>
<rect x="35.20" y="152.50" width="60.80" height="61.50" fill="none" stroke="#d4d4d4" stroke-width="0.8"/>
<path d="M34.400000000000006,154.5 L34.400000000000006,214.0" stroke="#9a9a9a" stroke-width="0.9" stroke-dasharray="0.7 1.9"/>
<path d="M36.2,214.9 L94.0,214.9" stroke="#9a9a9a" stroke-width="0.9" stroke-dasharray="0.7 2.3"/>
<text x="32.20" y="162.40" font-size="5.8" fill="#4a4a4a" text-anchor="end" style="stroke:none" stroke="#4a4a4a" stroke-width="0.18">10<tspan font-size="3.48" dy="-2.61">4</tspan></text>
<line x1="33.70" y1="160.40" x2="35.20" y2="160.40" stroke="#4a4a4a" stroke-width="0.6"/>
<text x="32.20" y="179.70" font-size="5.8" fill="#4a4a4a" text-anchor="end" style="stroke:none" stroke="#4a4a4a" stroke-width="0.18">10<tspan font-size="3.48" dy="-2.61">3</tspan></text>
<line x1="33.70" y1="177.70" x2="35.20" y2="177.70" stroke="#4a4a4a" stroke-width="0.6"/>
<text x="32.20" y="198.90" font-size="5.8" fill="#4a4a4a" text-anchor="end" style="stroke:none" stroke="#4a4a4a" stroke-width="0.18">10<tspan font-size="3.48" dy="-2.61">2</tspan></text>
<line x1="33.70" y1="196.90" x2="35.20" y2="196.90" stroke="#4a4a4a" stroke-width="0.6"/>
<text x="30.60" y="206.00" font-size="5.8" fill="#4a4a4a" text-anchor="end" stroke="#4a4a4a" stroke-width="0.18">0</text>
<line x1="33.70" y1="204.00" x2="35.20" y2="204.00" stroke="#4a4a4a" stroke-width="0.6"/>
<text x="32.20" y="213.30" font-size="5.8" fill="#4a4a4a" text-anchor="end" style="stroke:none" stroke="#4a4a4a" stroke-width="0.18">-10<tspan font-size="3.48" dy="-2.61">2</tspan></text>
<text transform="translate(38.15,221.77) rotate(-45)" font-size="5.4" fill="#4a4a4a" text-anchor="end" textLength="3.01" lengthAdjust="spacingAndGlyphs" stroke="#4a4a4a" stroke-width="0.18">0</text>
<text transform="translate(51.06,221.86) rotate(-45)" font-size="5.4" fill="#4a4a4a" text-anchor="end" textLength="8.66" lengthAdjust="spacingAndGlyphs" stroke="#4a4a4a" stroke-width="0.18">50K</text>
<text transform="translate(62.45,221.88) rotate(-45)" font-size="5.4" fill="#4a4a4a" text-anchor="end" textLength="10.17" lengthAdjust="spacingAndGlyphs" stroke="#4a4a4a" stroke-width="0.18">100K</text>
<text transform="translate(75.45,221.88) rotate(-45)" font-size="5.4" fill="#4a4a4a" text-anchor="end" textLength="10.17" lengthAdjust="spacingAndGlyphs" stroke="#4a4a4a" stroke-width="0.18">150K</text>
<text transform="translate(88.35,221.88) rotate(-45)" font-size="5.4" fill="#4a4a4a" text-anchor="end" textLength="10.27" lengthAdjust="spacingAndGlyphs" stroke="#4a4a4a" stroke-width="0.18">200K</text>
<line x1="35.80" y1="214.00" x2="35.80" y2="215.60" stroke="#4a4a4a" stroke-width="0.6"/>
<line x1="60.40" y1="214.00" x2="60.40" y2="215.60" stroke="#4a4a4a" stroke-width="0.6"/>
<line x1="86.30" y1="214.00" x2="86.30" y2="215.60" stroke="#4a4a4a" stroke-width="0.6"/>
<rect x="118.70" y="152.50" width="60.80" height="61.50" fill="none" stroke="#d4d4d4" stroke-width="0.8"/>
<path d="M117.9,154.5 L117.9,214.0" stroke="#9a9a9a" stroke-width="0.9" stroke-dasharray="0.7 1.9"/>
<path d="M119.7,214.9 L177.5,214.9" stroke="#9a9a9a" stroke-width="0.9" stroke-dasharray="0.7 2.3"/>
<text x="115.70" y="162.40" font-size="5.8" fill="#4a4a4a" text-anchor="end" style="stroke:none" stroke="#4a4a4a" stroke-width="0.18">10<tspan font-size="3.48" dy="-2.61">4</tspan></text>
<line x1="117.20" y1="160.40" x2="118.70" y2="160.40" stroke="#4a4a4a" stroke-width="0.6"/>
<text x="115.70" y="179.70" font-size="5.8" fill="#4a4a4a" text-anchor="end" style="stroke:none" stroke="#4a4a4a" stroke-width="0.18">10<tspan font-size="3.48" dy="-2.61">3</tspan></text>
<line x1="117.20" y1="177.70" x2="118.70" y2="177.70" stroke="#4a4a4a" stroke-width="0.6"/>
<text x="115.70" y="198.90" font-size="5.8" fill="#4a4a4a" text-anchor="end" style="stroke:none" stroke="#4a4a4a" stroke-width="0.18">10<tspan font-size="3.48" dy="-2.61">2</tspan></text>
<line x1="117.20" y1="196.90" x2="118.70" y2="196.90" stroke="#4a4a4a" stroke-width="0.6"/>
<text x="114.10" y="206.00" font-size="5.8" fill="#4a4a4a" text-anchor="end" stroke="#4a4a4a" stroke-width="0.18">0</text>
<line x1="117.20" y1="204.00" x2="118.70" y2="204.00" stroke="#4a4a4a" stroke-width="0.6"/>
<text x="115.70" y="213.30" font-size="5.8" fill="#4a4a4a" text-anchor="end" style="stroke:none" stroke="#4a4a4a" stroke-width="0.18">-10<tspan font-size="3.48" dy="-2.61">2</tspan></text>
<text transform="translate(121.65,221.77) rotate(-45)" font-size="5.4" fill="#4a4a4a" text-anchor="end" textLength="3.01" lengthAdjust="spacingAndGlyphs" stroke="#4a4a4a" stroke-width="0.18">0</text>
<text transform="translate(134.56,221.86) rotate(-45)" font-size="5.4" fill="#4a4a4a" text-anchor="end" textLength="8.66" lengthAdjust="spacingAndGlyphs" stroke="#4a4a4a" stroke-width="0.18">50K</text>
<text transform="translate(145.95,221.88) rotate(-45)" font-size="5.4" fill="#4a4a4a" text-anchor="end" textLength="10.17" lengthAdjust="spacingAndGlyphs" stroke="#4a4a4a" stroke-width="0.18">100K</text>
<text transform="translate(158.95,221.88) rotate(-45)" font-size="5.4" fill="#4a4a4a" text-anchor="end" textLength="10.17" lengthAdjust="spacingAndGlyphs" stroke="#4a4a4a" stroke-width="0.18">150K</text>
<text transform="translate(171.85,221.88) rotate(-45)" font-size="5.4" fill="#4a4a4a" text-anchor="end" textLength="10.27" lengthAdjust="spacingAndGlyphs" stroke="#4a4a4a" stroke-width="0.18">200K</text>
<line x1="119.30" y1="214.00" x2="119.30" y2="215.60" stroke="#4a4a4a" stroke-width="0.6"/>
<line x1="143.90" y1="214.00" x2="143.90" y2="215.60" stroke="#4a4a4a" stroke-width="0.6"/>
<line x1="169.80" y1="214.00" x2="169.80" y2="215.60" stroke="#4a4a4a" stroke-width="0.6"/>
<g filter="url(#bl)"><path d="M58.20,163.50 C60.54,163.50 59.41,164.59 62.50,166.00 C65.59,167.41 64.87,166.88 68.50,168.20 C72.13,169.52 71.75,168.96 74.60,170.40 C77.45,171.84 76.44,170.93 78.00,173.00 C79.56,175.07 79.14,174.18 79.80,177.30 C80.46,180.42 79.42,180.79 80.20,183.40 C80.98,186.01 82.52,184.47 82.40,186.00 C82.28,187.53 81.63,186.70 79.80,188.50 C77.97,190.30 79.15,189.90 76.30,192.00 C73.45,194.10 74.71,193.70 70.30,195.50 C65.89,197.30 66.28,196.44 61.60,198.00 C56.92,199.56 58.84,198.87 54.70,200.70 C50.56,202.53 51.16,204.10 47.80,204.10 C44.44,204.10 45.18,203.55 43.50,200.70 C41.82,197.85 42.47,199.01 42.20,194.60 C41.93,190.19 42.21,191.19 42.60,186.00 C42.99,180.81 42.72,181.20 43.50,177.30 C44.28,173.40 43.40,175.34 45.20,173.00 C47.00,170.66 46.65,171.60 49.50,169.50 C52.35,167.40 52.09,167.80 54.70,166.00 C57.31,164.20 55.86,163.50 58.20,163.50Z" fill="#0a14d2" stroke="#0a14d2" stroke-width="0.5"/><path d="M58.33,165.00 C60.50,165.00 59.45,166.02 62.33,167.33 C65.20,168.64 64.53,168.15 67.91,169.38 C71.28,170.60 70.93,170.08 73.58,171.42 C76.23,172.76 75.29,171.91 76.74,173.84 C78.19,175.77 77.80,174.94 78.41,177.84 C79.03,180.74 78.06,181.08 78.79,183.51 C79.51,185.94 80.94,184.51 80.83,185.93 C80.72,187.35 80.12,186.58 78.41,188.25 C76.71,189.93 77.81,189.56 75.16,191.51 C72.51,193.46 73.68,193.09 69.58,194.76 C65.48,196.44 65.84,195.64 61.49,197.09 C57.14,198.54 58.92,197.90 55.07,199.60 C51.22,201.30 51.78,202.76 48.65,202.76 C45.53,202.76 46.22,202.25 44.66,199.60 C43.09,196.95 43.70,198.03 43.45,193.93 C43.19,189.83 43.46,190.76 43.82,185.93 C44.18,181.10 43.93,181.47 44.66,177.84 C45.38,174.21 44.56,176.02 46.24,173.84 C47.91,171.66 47.58,172.54 50.23,170.59 C52.89,168.63 52.64,169.00 55.07,167.33 C57.50,165.66 56.15,165.00 58.33,165.00Z" fill="#0a3cff" stroke="#0a3cff" stroke-width="0.5"/><path d="M49.00,171.00 C51.55,169.35 51.70,168.95 55.00,168.50 C58.30,168.05 57.00,168.45 60.00,169.50 C63.00,170.55 62.30,170.05 65.00,172.00 C67.70,173.95 67.50,173.30 69.00,176.00 C70.50,178.70 69.10,178.00 70.00,181.00 C70.90,184.00 72.00,183.30 72.00,186.00 C72.00,188.70 72.40,187.75 70.00,190.00 C67.60,192.25 67.90,191.40 64.00,193.50 C60.10,195.60 61.20,195.05 57.00,197.00 C52.80,198.95 53.30,199.25 50.00,200.00 C46.70,200.75 47.65,201.00 46.00,199.50 C44.35,198.00 44.95,198.75 44.50,195.00 C44.05,191.25 44.20,191.80 44.50,187.00 C44.80,182.20 44.90,182.90 45.50,179.00 C46.10,175.10 45.45,176.40 46.50,174.00 C47.55,171.60 46.45,172.65 49.00,171.00Z" fill="#00b4ff" stroke="#00b4ff" stroke-width="0.5"/><path d="M48.00,175.00 C49.95,172.45 50.00,172.40 53.00,171.50 C56.00,170.60 55.30,170.65 58.00,172.00 C60.70,173.35 60.65,173.30 62.00,176.00 C63.35,178.70 62.80,178.30 62.50,181.00 C62.20,183.70 60.85,182.60 61.00,185.00 C61.15,187.40 63.60,186.60 63.00,189.00 C62.40,191.40 62.00,190.75 59.00,193.00 C56.00,195.25 56.30,195.15 53.00,196.50 C49.70,197.85 50.10,198.25 48.00,197.50 C45.90,196.75 46.60,197.45 46.00,194.00 C45.40,190.55 45.85,190.20 46.00,186.00 C46.15,181.80 45.90,183.30 46.50,180.00 C47.10,176.70 46.05,177.55 48.00,175.00Z" fill="#3ce6b4" stroke="#3ce6b4" stroke-width="0.5"/><path d="M50.00,177.00 C51.65,175.35 51.60,174.80 54.00,174.50 C56.40,174.20 56.50,174.35 58.00,176.00 C59.50,177.65 59.60,177.75 59.00,180.00 C58.40,182.25 56.15,181.10 56.00,183.50 C55.85,185.90 58.50,185.45 58.50,188.00 C58.50,190.55 58.10,189.90 56.00,192.00 C53.90,194.10 53.90,194.10 51.50,195.00 C49.10,195.90 49.35,196.50 48.00,195.00 C46.65,193.50 47.15,193.30 47.00,190.00 C46.85,186.70 47.05,187.00 47.50,184.00 C47.95,181.00 47.75,182.10 48.50,180.00 C49.25,177.90 48.35,178.65 50.00,177.00Z" fill="#6ee650" stroke="#6ee650" stroke-width="0.5"/><path d="M47.50,188.00 C48.40,185.00 48.45,185.95 51.00,185.50 C53.55,185.05 53.90,185.30 56.00,186.50 C58.10,187.70 58.00,187.40 58.00,189.50 C58.00,191.60 57.95,191.55 56.00,193.50 C54.05,195.45 53.90,195.40 51.50,196.00 C49.10,196.60 49.20,197.90 48.00,195.50 C46.80,193.10 46.60,191.00 47.50,188.00Z" fill="#f5e600" stroke="#f5e600" stroke-width="0.5"/><path d="M48.50,189.50 C49.40,187.64 50.05,187.80 52.00,187.80 C53.95,187.80 54.25,188.00 55.00,189.50 C55.75,191.00 55.55,191.21 54.50,192.80 C53.45,194.39 53.15,194.44 51.50,194.80 C49.85,195.16 49.90,195.59 49.00,194.00 C48.10,192.41 47.60,191.36 48.50,189.50Z" fill="#ff8200" stroke="#ff8200" stroke-width="0.5"/><ellipse cx="51.6" cy="191.6" rx="2.3" ry="2.2" fill="#e41a00"/></g>
<g filter="url(#bl)"><path d="M134.20,165.20 C137.05,163.25 136.01,163.66 139.40,163.90 C142.79,164.14 142.62,165.10 145.50,166.00 C148.38,166.90 144.86,166.63 149.00,166.90 C153.14,167.17 155.67,166.36 159.30,166.90 C162.93,167.44 160.05,167.14 161.10,168.70 C162.15,170.26 163.34,170.57 162.80,172.10 C162.26,173.63 160.59,172.24 159.30,173.80 C158.01,175.36 158.23,175.20 158.50,177.30 C158.77,179.40 159.18,178.46 160.20,180.80 C161.22,183.14 162.68,183.03 161.90,185.10 C161.12,187.17 160.72,185.90 157.60,187.70 C154.48,189.50 155.40,189.03 151.50,191.10 C147.60,193.17 148.74,192.50 144.60,194.60 C140.46,196.70 141.06,195.76 137.70,198.10 C134.34,200.44 135.74,201.38 133.40,202.40 C131.06,203.42 131.97,203.84 129.90,201.50 C127.83,199.16 127.79,199.25 126.50,194.60 C125.21,189.95 125.36,191.70 125.60,186.00 C125.84,180.30 126.01,180.28 127.30,175.60 C128.59,170.92 127.83,173.52 129.90,170.40 C131.97,167.28 131.35,167.15 134.20,165.20Z" fill="#0a14d2" stroke="#0a14d2" stroke-width="0.5"/><path d="M134.82,166.45 C137.47,164.63 136.50,165.01 139.65,165.24 C142.80,165.46 142.65,166.35 145.32,167.19 C148.00,168.03 144.73,167.78 148.58,168.03 C152.43,168.28 154.78,167.52 158.16,168.03 C161.53,168.53 158.86,168.25 159.83,169.70 C160.81,171.15 161.92,171.44 161.41,172.86 C160.91,174.29 159.36,172.99 158.16,174.44 C156.96,175.89 157.16,175.75 157.41,177.70 C157.67,179.65 158.05,178.78 159.00,180.95 C159.94,183.13 161.30,183.03 160.58,184.95 C159.85,186.88 159.48,185.70 156.58,187.37 C153.68,189.04 154.53,188.61 150.91,190.53 C147.28,192.46 148.34,191.83 144.49,193.79 C140.64,195.74 141.20,194.87 138.07,197.04 C134.95,199.22 136.25,200.09 134.07,201.04 C131.90,201.99 132.74,202.38 130.82,200.21 C128.89,198.03 128.85,198.11 127.66,193.79 C126.46,189.46 126.59,191.09 126.82,185.79 C127.04,180.49 127.20,180.47 128.40,176.12 C129.60,171.77 128.89,174.18 130.82,171.28 C132.74,168.38 132.17,168.26 134.82,166.45Z" fill="#0a3cff" stroke="#0a3cff" stroke-width="0.5"/><path d="M130.00,172.00 C131.80,169.60 132.00,169.20 135.00,168.00 C138.00,166.80 137.00,167.40 140.00,168.00 C143.00,168.60 142.30,168.65 145.00,170.00 C147.70,171.35 146.90,170.70 149.00,172.50 C151.10,174.30 150.80,173.45 152.00,176.00 C153.20,178.55 152.40,178.00 153.00,181.00 C153.60,184.00 154.90,183.60 154.00,186.00 C153.10,188.40 153.00,187.05 150.00,189.00 C147.00,190.95 147.60,190.40 144.00,192.50 C140.40,194.60 141.30,194.20 138.00,196.00 C134.70,197.80 135.55,198.20 133.00,198.50 C130.45,198.80 131.00,199.25 129.50,197.00 C128.00,194.75 128.36,195.50 128.00,191.00 C127.64,186.50 128.00,186.50 128.30,182.00 C128.60,177.50 128.49,179.00 129.00,176.00 C129.51,173.00 128.20,174.40 130.00,172.00Z" fill="#00b4ff" stroke="#00b4ff" stroke-width="0.5"/><path d="M131.00,175.00 C132.56,170.95 132.30,171.70 135.00,170.50 C137.70,169.30 137.30,169.65 140.00,171.00 C142.70,172.35 142.35,172.00 144.00,175.00 C145.65,178.00 145.20,177.70 145.50,181.00 C145.80,184.30 146.35,183.30 145.00,186.00 C143.65,188.70 143.55,187.60 141.00,190.00 C138.45,192.40 139.20,192.20 136.50,194.00 C133.80,195.80 134.01,196.60 132.00,196.00 C129.99,195.40 130.46,195.60 129.80,192.00 C129.14,188.40 129.44,189.10 129.80,184.00 C130.16,178.90 129.44,179.05 131.00,175.00Z" fill="#3ce6b4" stroke="#3ce6b4" stroke-width="0.5"/><path d="M132.00,176.00 C133.50,173.45 133.60,173.10 136.00,172.50 C138.40,171.90 138.05,172.35 140.00,174.00 C141.95,175.65 142.05,175.60 142.50,178.00 C142.95,180.40 141.65,179.60 141.50,182.00 C141.35,184.40 142.75,183.60 142.00,186.00 C141.25,188.40 140.95,187.90 139.00,190.00 C137.05,192.10 137.60,191.80 135.50,193.00 C133.40,194.20 133.41,195.20 132.00,194.00 C130.59,192.80 131.10,192.90 130.80,189.00 C130.50,185.10 130.64,184.90 131.00,181.00 C131.36,177.10 130.50,178.55 132.00,176.00Z" fill="#6ee650" stroke="#6ee650" stroke-width="0.5"/><path d="M131.00,185.00 C132.20,182.30 132.30,183.00 135.00,183.00 C137.70,183.00 138.20,183.20 140.00,185.00 C141.80,186.80 141.60,186.75 141.00,189.00 C140.40,191.25 140.25,191.00 138.00,192.50 C135.75,194.00 135.60,194.15 133.50,194.00 C131.40,193.85 131.75,194.70 131.00,192.00 C130.25,189.30 129.80,187.70 131.00,185.00Z" fill="#f5e600" stroke="#f5e600" stroke-width="0.5"/><path d="M131.80,187.50 C132.91,185.79 133.40,186.00 135.50,186.30 C137.60,186.60 138.20,186.85 138.80,188.50 C139.40,190.15 138.94,190.36 137.50,191.80 C136.06,193.24 135.71,193.24 134.00,193.30 C132.29,193.36 132.46,193.74 131.80,192.00 C131.14,190.26 130.69,189.21 131.80,187.50Z" fill="#ff8200" stroke="#ff8200" stroke-width="0.5"/><ellipse cx="134.8" cy="190.6" rx="2.3" ry="2.2" fill="#e41a00"/></g>
<rect x="47.50" y="159.00" width="41.20" height="24.30" fill="none" stroke="#404040" stroke-width="0.7"/>
<polyline points="35.2,171.2 45.6,171.2 45.6,209.5 35.2,209.5" fill="none" stroke="#404040" stroke-width="0.7"/>
<rect x="131.10" y="158.20" width="41.60" height="24.30" fill="none" stroke="#404040" stroke-width="0.7"/>
<polyline points="118.7,170.9 129.7,170.9 129.7,209.3 118.7,209.3" fill="none" stroke="#404040" stroke-width="0.7"/>
<text x="72.43" y="158.17" font-size="6.3" fill="#333" textLength="15.26" lengthAdjust="spacingAndGlyphs" style="stroke:none" stroke="#333" stroke-width="0.18">26.6%</text>
<text x="47.67" y="211.17" font-size="6.3" fill="#333" textLength="16.03" lengthAdjust="spacingAndGlyphs" style="stroke:none" stroke="#333" stroke-width="0.18">3.83%</text>
<text x="160.60" y="157.77" font-size="6.3" fill="#333" textLength="14.98" lengthAdjust="spacingAndGlyphs" style="stroke:none" stroke="#333" stroke-width="0.18">19.4%</text>
<text x="131.68" y="210.97" font-size="6.3" fill="#333" textLength="15.51" lengthAdjust="spacingAndGlyphs" style="stroke:none" stroke="#333" stroke-width="0.18">3.71%</text>
<rect x="0.55" y="0.55" width="518.9" height="689.9" fill="none" stroke="#484848" stroke-width="1.3"/>
</svg>
</body></html>
